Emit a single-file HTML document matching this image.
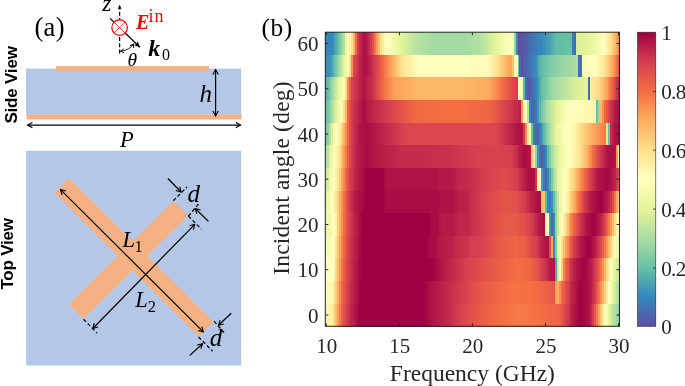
<!DOCTYPE html>
<html><head><meta charset="utf-8"><title>Figure</title>
<style>
html,body{margin:0;padding:0;background:#fff;}
body{width:685px;height:386px;overflow:hidden;}
svg{display:block;}
text{font-family:"Liberation Serif",serif;fill:#000;}
.sans{font-family:"Liberation Sans",sans-serif;font-weight:bold;font-size:17px;letter-spacing:-0.2px;}
.tick{font-size:21px;fill:#262626;}
.lab{font-size:23.5px;fill:#262626;}
.it{font-style:italic;}
.bi{font-style:italic;font-weight:bold;}
.ln{stroke:#000;stroke-width:1.2;fill:none;}
.dash{stroke:#000;stroke-width:1.25;fill:none;stroke-dasharray:3.6 2.4;}
</style></head>
<body>
<svg width="685" height="386" viewBox="0 0 685 386">
<defs>
<marker id="ah" viewBox="-6 -4 7 8" markerWidth="7" markerHeight="8" refX="0" refY="0" orient="auto-start-reverse" markerUnits="userSpaceOnUse">
<path d="M-4.8,-2.7 L0,0 L-4.8,2.7" fill="none" stroke="#000" stroke-width="1.1"/>
</marker>
<marker id="ahs" viewBox="-5 -3 6 6" markerWidth="6" markerHeight="6" refX="0" refY="0" orient="auto-start-reverse" markerUnits="userSpaceOnUse">
<path d="M-3.4,-2 L0,0 L-3.4,2" fill="none" stroke="#000" stroke-width="0.9"/>
</marker>
<marker id="ahf" viewBox="-7 -4 8 8" markerWidth="8" markerHeight="8" refX="0" refY="0" orient="auto-start-reverse" markerUnits="userSpaceOnUse">
<path d="M-6,-2.9 L0,0 L-6,2.9 L-4.2,0 Z" fill="#000" stroke="none"/>
</marker>
<marker id="ahz" viewBox="-6 -4 7 8" markerWidth="7" markerHeight="8" refX="0" refY="0" orient="auto-start-reverse" markerUnits="userSpaceOnUse">
<path d="M-4.4,-2.1 L0,0 L-4.4,2.1 L-3.2,0 Z" fill="#000" stroke="none"/>
</marker>
</defs>
<defs><linearGradient id="cb" x1="0" y1="0" x2="0" y2="1"><stop offset="0%" stop-color="#9e0142"/><stop offset="10%" stop-color="#d53e4f"/><stop offset="20%" stop-color="#f46d43"/><stop offset="30%" stop-color="#fdae61"/><stop offset="40%" stop-color="#fee08b"/><stop offset="50%" stop-color="#ffffbf"/><stop offset="60%" stop-color="#e6f598"/><stop offset="70%" stop-color="#abdda4"/><stop offset="80%" stop-color="#66c2a5"/><stop offset="90%" stop-color="#3288bd"/><stop offset="100%" stop-color="#5e4fa2"/></linearGradient></defs>
<rect x="0" y="0" width="685" height="386" fill="#fff"/>

<!-- ===== panel (a) ===== -->
<text x="34.4" y="35.9" font-size="26.6" style="letter-spacing:0.3px">(a)</text>
<text class="sans" transform="translate(17.4,123.6) rotate(-90)">Side View</text>
<text class="sans" transform="translate(12.6,289.6) rotate(-90)">Top View</text>

<!-- side view -->
<rect x="26" y="68.6" width="215.2" height="46" fill="#b4c7e7"/>
<rect x="56" y="66" width="152.9" height="5.3" fill="#f4b183"/>
<rect x="26.5" y="114.4" width="215" height="5.1" fill="#f4b183"/>
<line class="ln" x1="27.6" y1="125.1" x2="240.6" y2="125.1" marker-start="url(#ah)" marker-end="url(#ah)"/>
<line class="ln" x1="215.6" y1="69.6" x2="215.6" y2="115.9" marker-start="url(#ah)" marker-end="url(#ah)"/>
<text class="it" x="199.5" y="101.8" font-size="25">h</text>
<text class="it" x="120" y="147" font-size="22.5">P</text>

<!-- incidence symbol -->
<line class="ln" x1="110.1" y1="18.4" x2="139.9" y2="47.2" stroke-width="1.3" style="stroke-width:1.3" marker-end="url(#ahf)"/>
<line class="dash" x1="119.6" y1="53.6" x2="119.6" y2="5" style="stroke-dasharray:4 2.3" marker-end="url(#ahz)"/>
<circle cx="119.6" cy="27.6" r="7.8" fill="#fff" stroke="#ff0000" stroke-width="1.2"/>
<path d="M114.1,22.1 L125.1,33.1 M125.1,22.1 L114.1,33.1" stroke="#ff0000" stroke-width="0.7" fill="none"/>
<path class="ln" d="M120.6,51.2 Q129.6,50.2 133.6,44.0" style="stroke-width:0.9" marker-start="url(#ahs)" marker-end="url(#ahs)"/>
<text class="it" x="102.3" y="11.1" font-size="23.5">z</text>
<text class="it" x="127.6" y="65.7" font-size="19.5">θ</text>
<text class="bi" x="136" y="29.3" font-size="20" style="fill:#ff0000">E</text>
<text x="148.6" y="21.8" font-size="18" style="fill:#ff0000;letter-spacing:1px">in</text>
<text class="bi" x="148.3" y="55.6" font-size="24">k</text>
<text x="162" y="60.3" font-size="16">0</text>

<!-- top view -->
<rect x="26.2" y="150.7" width="215" height="214.8" fill="#b4c7e7"/>
<line x1="76" y1="311.6" x2="180.9" y2="208.4" stroke="#f4b183" stroke-width="20.8"/>
<line x1="61.8" y1="185.5" x2="206.2" y2="329.1" stroke="#f4b183" stroke-width="20.8"/>
<line class="ln" x1="60.5" y1="189.6" x2="203.3" y2="331.9" marker-start="url(#ah)" marker-end="url(#ah)"/>
<line class="ln" x1="92.8" y1="328.5" x2="194.8" y2="224.3" marker-start="url(#ah)" marker-end="url(#ah)"/>
<!-- dashed extension lines -->
<line class="dash" x1="173.3" y1="200.7" x2="187" y2="187"/>
<line class="dash" x1="188.4" y1="216.1" x2="199" y2="203.5"/>
<line class="dash" x1="188.4" y1="216.1" x2="201.5" y2="229.3"/>
<line class="dash" x1="83.5" y1="319.3" x2="97" y2="333"/>
<line class="dash" x1="214.1" y1="321.2" x2="224" y2="332.6"/>
<line class="dash" x1="198.4" y1="336.9" x2="212.6" y2="351.2"/>
<!-- d arrows -->
<line class="ln" x1="167.9" y1="178.5" x2="181.1" y2="192" marker-end="url(#ah)"/>
<line class="ln" x1="208.4" y1="221.2" x2="195.2" y2="208.6" marker-end="url(#ah)"/>
<line class="ln" x1="231.2" y1="313.3" x2="218.5" y2="325.3" marker-end="url(#ah)"/>
<line class="ln" x1="189.8" y1="355.4" x2="202.5" y2="343.7" marker-end="url(#ah)"/>
<text class="it" x="187.6" y="201.9" font-size="25">d</text>
<text class="it" x="209.8" y="345.5" font-size="25">d</text>
<text class="it" x="122.5" y="247" font-size="22.5">L</text>
<text x="134.6" y="251.8" font-size="16.5">1</text>
<text class="it" x="135.2" y="307" font-size="22.5">L</text>
<text x="147.7" y="312.1" font-size="16.5">2</text>

<!-- ===== panel (b) ===== -->
<text x="261.5" y="36.2" font-size="25.4" style="letter-spacing:0.6px">(b)</text>
<g shape-rendering="crispEdges">
<rect x="325.30" y="32.20" width="8.15" height="22.92" fill="#3288bd"/>
<rect x="333.15" y="32.20" width="2.26" height="22.92" fill="#4098b6"/>
<rect x="335.11" y="32.20" width="2.26" height="22.92" fill="#50aaaf"/>
<rect x="337.07" y="32.20" width="2.26" height="22.92" fill="#61bca7"/>
<rect x="339.03" y="32.20" width="2.26" height="22.92" fill="#78c9a5"/>
<rect x="340.99" y="32.20" width="2.26" height="22.92" fill="#94d4a4"/>
<rect x="342.95" y="32.20" width="2.26" height="22.92" fill="#b5e1a2"/>
<rect x="344.91" y="32.20" width="2.26" height="22.92" fill="#ebf7a0"/>
<rect x="346.87" y="32.20" width="2.26" height="22.92" fill="#fffcba"/>
<rect x="348.84" y="32.20" width="2.26" height="22.92" fill="#fff0a5"/>
<rect x="350.80" y="32.20" width="2.26" height="22.92" fill="#fee391"/>
<rect x="352.76" y="32.20" width="2.26" height="22.92" fill="#fdb567"/>
<rect x="354.72" y="32.20" width="2.26" height="22.92" fill="#f36b43"/>
<rect x="356.68" y="32.20" width="2.26" height="22.92" fill="#d23b4e"/>
<rect x="358.64" y="32.20" width="2.26" height="22.92" fill="#c2294b"/>
<rect x="360.60" y="32.20" width="2.26" height="22.92" fill="#b61b48"/>
<rect x="362.57" y="32.20" width="4.22" height="22.92" fill="#ad1246"/>
<rect x="366.49" y="32.20" width="2.26" height="22.92" fill="#b61b48"/>
<rect x="368.45" y="32.20" width="2.26" height="22.92" fill="#c2294b"/>
<rect x="370.41" y="32.20" width="2.26" height="22.92" fill="#d33b4e"/>
<rect x="372.37" y="32.20" width="2.26" height="22.92" fill="#e04e4b"/>
<rect x="374.33" y="32.20" width="2.26" height="22.92" fill="#f57547"/>
<rect x="376.29" y="32.20" width="2.26" height="22.92" fill="#fa9b58"/>
<rect x="378.26" y="32.20" width="2.26" height="22.92" fill="#fdbd6d"/>
<rect x="380.22" y="32.20" width="2.26" height="22.92" fill="#fee18d"/>
<rect x="382.18" y="32.20" width="2.26" height="22.92" fill="#feeda1"/>
<rect x="384.14" y="32.20" width="2.26" height="22.92" fill="#fff9b5"/>
<rect x="386.10" y="32.20" width="2.26" height="22.92" fill="#fffebd"/>
<rect x="388.06" y="32.20" width="2.26" height="22.92" fill="#fcfebb"/>
<rect x="390.02" y="32.20" width="2.26" height="22.92" fill="#f9fcb5"/>
<rect x="391.99" y="32.20" width="2.26" height="22.92" fill="#f5fbaf"/>
<rect x="393.95" y="32.20" width="2.26" height="22.92" fill="#f1f9a9"/>
<rect x="395.91" y="32.20" width="2.26" height="22.92" fill="#edf8a2"/>
<rect x="397.87" y="32.20" width="2.26" height="22.92" fill="#e8f69c"/>
<rect x="399.83" y="32.20" width="2.26" height="22.92" fill="#e4f498"/>
<rect x="401.79" y="32.20" width="2.26" height="22.92" fill="#def29a"/>
<rect x="403.75" y="32.20" width="2.26" height="22.92" fill="#d8ef9b"/>
<rect x="405.71" y="32.20" width="2.26" height="22.92" fill="#d2ed9c"/>
<rect x="407.68" y="32.20" width="2.26" height="22.92" fill="#cceb9d"/>
<rect x="409.64" y="32.20" width="2.26" height="22.92" fill="#c7e89e"/>
<rect x="411.60" y="32.20" width="2.26" height="22.92" fill="#c1e6a0"/>
<rect x="413.56" y="32.20" width="2.26" height="22.92" fill="#bce4a1"/>
<rect x="415.52" y="32.20" width="2.26" height="22.92" fill="#bae3a1"/>
<rect x="417.48" y="32.20" width="2.26" height="22.92" fill="#b7e2a2"/>
<rect x="419.44" y="32.20" width="2.26" height="22.92" fill="#b5e1a2"/>
<rect x="421.41" y="32.20" width="2.26" height="22.92" fill="#b2e0a3"/>
<rect x="423.37" y="32.20" width="2.26" height="22.92" fill="#b0dfa3"/>
<rect x="425.33" y="32.20" width="2.26" height="22.92" fill="#addea4"/>
<rect x="427.29" y="32.20" width="2.26" height="22.92" fill="#abdda4"/>
<rect x="429.25" y="32.20" width="2.26" height="22.92" fill="#a8dca4"/>
<rect x="431.21" y="32.20" width="2.26" height="22.92" fill="#a5dba4"/>
<rect x="433.17" y="32.20" width="33.64" height="22.92" fill="#a4daa4"/>
<rect x="466.52" y="32.20" width="2.26" height="22.92" fill="#a5dba4"/>
<rect x="468.48" y="32.20" width="2.26" height="22.92" fill="#a7dba4"/>
<rect x="470.44" y="32.20" width="2.26" height="22.92" fill="#a9dca4"/>
<rect x="472.40" y="32.20" width="2.26" height="22.92" fill="#abdda4"/>
<rect x="474.36" y="32.20" width="2.26" height="22.92" fill="#addea4"/>
<rect x="476.32" y="32.20" width="2.26" height="22.92" fill="#aedea3"/>
<rect x="478.28" y="32.20" width="2.26" height="22.92" fill="#b0dfa3"/>
<rect x="480.25" y="32.20" width="2.26" height="22.92" fill="#b5e1a2"/>
<rect x="482.21" y="32.20" width="2.26" height="22.92" fill="#bae3a1"/>
<rect x="484.17" y="32.20" width="2.26" height="22.92" fill="#c0e6a0"/>
<rect x="486.13" y="32.20" width="2.26" height="22.92" fill="#c7e89e"/>
<rect x="488.09" y="32.20" width="2.26" height="22.92" fill="#cdeb9d"/>
<rect x="490.05" y="32.20" width="2.26" height="22.92" fill="#d4ee9c"/>
<rect x="492.01" y="32.20" width="2.26" height="22.92" fill="#dbf19a"/>
<rect x="493.97" y="32.20" width="2.26" height="22.92" fill="#e2f399"/>
<rect x="495.94" y="32.20" width="2.26" height="22.92" fill="#e8f69b"/>
<rect x="497.90" y="32.20" width="2.26" height="22.92" fill="#ebf7a0"/>
<rect x="499.86" y="32.20" width="2.26" height="22.92" fill="#eff9a6"/>
<rect x="501.82" y="32.20" width="2.26" height="22.92" fill="#f3faac"/>
<rect x="503.78" y="32.20" width="2.26" height="22.92" fill="#f6fcb2"/>
<rect x="505.74" y="32.20" width="2.26" height="22.92" fill="#fafdb7"/>
<rect x="507.70" y="32.20" width="2.26" height="22.92" fill="#fcfeba"/>
<rect x="509.67" y="32.20" width="2.26" height="22.92" fill="#fefebd"/>
<rect x="511.63" y="32.20" width="2.26" height="22.92" fill="#fdfebb"/>
<rect x="513.59" y="32.20" width="2.26" height="22.92" fill="#98d6a4"/>
<rect x="515.55" y="32.20" width="2.26" height="22.92" fill="#358cbb"/>
<rect x="517.51" y="32.20" width="2.26" height="22.92" fill="#5e4fa2"/>
<rect x="519.47" y="32.20" width="2.26" height="22.92" fill="#5c52a3"/>
<rect x="521.43" y="32.20" width="2.26" height="22.92" fill="#5955a5"/>
<rect x="523.39" y="32.20" width="2.26" height="22.92" fill="#5758a6"/>
<rect x="525.36" y="32.20" width="2.26" height="22.92" fill="#545ca8"/>
<rect x="527.32" y="32.20" width="2.26" height="22.92" fill="#4d65ac"/>
<rect x="529.28" y="32.20" width="2.26" height="22.92" fill="#466eb1"/>
<rect x="531.24" y="32.20" width="2.26" height="22.92" fill="#4274b3"/>
<rect x="533.20" y="32.20" width="2.26" height="22.92" fill="#3e78b5"/>
<rect x="535.16" y="32.20" width="2.26" height="22.92" fill="#3b7cb7"/>
<rect x="537.12" y="32.20" width="2.26" height="22.92" fill="#3881ba"/>
<rect x="539.09" y="32.20" width="2.26" height="22.92" fill="#3485bc"/>
<rect x="541.05" y="32.20" width="2.26" height="22.92" fill="#348abc"/>
<rect x="543.01" y="32.20" width="2.26" height="22.92" fill="#3990ba"/>
<rect x="544.97" y="32.20" width="2.26" height="22.92" fill="#3f96b7"/>
<rect x="546.93" y="32.20" width="2.26" height="22.92" fill="#459db4"/>
<rect x="548.89" y="32.20" width="2.26" height="22.92" fill="#4aa3b2"/>
<rect x="550.85" y="32.20" width="2.26" height="22.92" fill="#51abaf"/>
<rect x="552.81" y="32.20" width="2.26" height="22.92" fill="#58b3ab"/>
<rect x="554.78" y="32.20" width="2.26" height="22.92" fill="#60bba8"/>
<rect x="556.74" y="32.20" width="2.26" height="22.92" fill="#61bda7"/>
<rect x="558.70" y="32.20" width="2.26" height="22.92" fill="#62bea7"/>
<rect x="560.66" y="32.20" width="2.26" height="22.92" fill="#63bea7"/>
<rect x="562.62" y="32.20" width="2.26" height="22.92" fill="#63bfa6"/>
<rect x="564.58" y="32.20" width="2.26" height="22.92" fill="#64c0a6"/>
<rect x="566.54" y="32.20" width="2.26" height="22.92" fill="#65c0a6"/>
<rect x="568.51" y="32.20" width="2.26" height="22.92" fill="#65c1a5"/>
<rect x="570.47" y="32.20" width="2.26" height="22.92" fill="#66c2a5"/>
<rect x="572.43" y="32.20" width="2.26" height="22.92" fill="#3c7bb7"/>
<rect x="574.39" y="32.20" width="2.26" height="22.92" fill="#486cb0"/>
<rect x="576.35" y="32.20" width="2.26" height="22.92" fill="#dbf19a"/>
<rect x="578.31" y="32.20" width="2.26" height="22.92" fill="#ddf19a"/>
<rect x="580.27" y="32.20" width="2.26" height="22.92" fill="#dff299"/>
<rect x="582.23" y="32.20" width="2.26" height="22.92" fill="#e0f399"/>
<rect x="584.20" y="32.20" width="2.26" height="22.92" fill="#e2f399"/>
<rect x="586.16" y="32.20" width="2.26" height="22.92" fill="#e4f498"/>
<rect x="588.12" y="32.20" width="2.26" height="22.92" fill="#e6f598"/>
<rect x="590.08" y="32.20" width="2.26" height="22.92" fill="#e9f69c"/>
<rect x="592.04" y="32.20" width="2.26" height="22.92" fill="#ecf7a1"/>
<rect x="594.00" y="32.20" width="2.26" height="22.92" fill="#eff9a7"/>
<rect x="595.96" y="32.20" width="2.26" height="22.92" fill="#f3faac"/>
<rect x="597.93" y="32.20" width="2.26" height="22.92" fill="#f6fbb1"/>
<rect x="599.89" y="32.20" width="2.26" height="22.92" fill="#f9fdb6"/>
<rect x="601.85" y="32.20" width="2.26" height="22.92" fill="#fdfebb"/>
<rect x="603.81" y="32.20" width="2.26" height="22.92" fill="#fffdbb"/>
<rect x="605.77" y="32.20" width="2.26" height="22.92" fill="#fff3ab"/>
<rect x="607.73" y="32.20" width="2.26" height="22.92" fill="#fee99a"/>
<rect x="609.69" y="32.20" width="2.26" height="22.92" fill="#fedf8a"/>
<rect x="611.65" y="32.20" width="2.26" height="22.92" fill="#fecd7b"/>
<rect x="613.62" y="32.20" width="2.26" height="22.92" fill="#fdb96b"/>
<rect x="615.58" y="32.20" width="2.26" height="22.92" fill="#fba35c"/>
<rect x="617.54" y="32.20" width="2.26" height="22.92" fill="#f77f4b"/>
<rect x="325.30" y="54.82" width="2.26" height="22.92" fill="#348abc"/>
<rect x="327.26" y="54.82" width="2.26" height="22.92" fill="#378eba"/>
<rect x="329.22" y="54.82" width="2.26" height="22.92" fill="#3b92b9"/>
<rect x="331.18" y="54.82" width="2.26" height="22.92" fill="#47a0b3"/>
<rect x="333.15" y="54.82" width="2.26" height="22.92" fill="#5db8a9"/>
<rect x="335.11" y="54.82" width="2.26" height="22.92" fill="#76c8a5"/>
<rect x="337.07" y="54.82" width="2.26" height="22.92" fill="#91d3a4"/>
<rect x="339.03" y="54.82" width="2.26" height="22.92" fill="#addea4"/>
<rect x="340.99" y="54.82" width="2.26" height="22.92" fill="#c8e99e"/>
<rect x="342.95" y="54.82" width="2.26" height="22.92" fill="#e4f498"/>
<rect x="344.91" y="54.82" width="2.26" height="22.92" fill="#f0f9a8"/>
<rect x="346.87" y="54.82" width="2.26" height="22.92" fill="#fbfdb9"/>
<rect x="348.84" y="54.82" width="2.26" height="22.92" fill="#fee18c"/>
<rect x="350.80" y="54.82" width="2.26" height="22.92" fill="#f98e52"/>
<rect x="352.76" y="54.82" width="2.26" height="22.92" fill="#db474d"/>
<rect x="354.72" y="54.82" width="2.26" height="22.92" fill="#d33c4f"/>
<rect x="356.68" y="54.82" width="2.26" height="22.92" fill="#c82f4c"/>
<rect x="358.64" y="54.82" width="2.26" height="22.92" fill="#bc2249"/>
<rect x="360.60" y="54.82" width="2.26" height="22.92" fill="#b41a47"/>
<rect x="362.57" y="54.82" width="2.26" height="22.92" fill="#ae1346"/>
<rect x="364.53" y="54.82" width="2.26" height="22.92" fill="#ab0f45"/>
<rect x="366.49" y="54.82" width="2.26" height="22.92" fill="#b11647"/>
<rect x="368.45" y="54.82" width="2.26" height="22.92" fill="#b81d48"/>
<rect x="370.41" y="54.82" width="2.26" height="22.92" fill="#c0274a"/>
<rect x="372.37" y="54.82" width="2.26" height="22.92" fill="#ca324c"/>
<rect x="374.33" y="54.82" width="2.26" height="22.92" fill="#d43d4f"/>
<rect x="376.29" y="54.82" width="2.26" height="22.92" fill="#da454d"/>
<rect x="378.26" y="54.82" width="2.26" height="22.92" fill="#e1504a"/>
<rect x="380.22" y="54.82" width="2.26" height="22.92" fill="#e95c47"/>
<rect x="382.18" y="54.82" width="2.26" height="22.92" fill="#f16844"/>
<rect x="384.14" y="54.82" width="2.26" height="22.92" fill="#f57647"/>
<rect x="386.10" y="54.82" width="2.26" height="22.92" fill="#f7854e"/>
<rect x="388.06" y="54.82" width="2.26" height="22.92" fill="#f99455"/>
<rect x="390.02" y="54.82" width="2.26" height="22.92" fill="#fba15b"/>
<rect x="391.99" y="54.82" width="2.26" height="22.92" fill="#fdae61"/>
<rect x="393.95" y="54.82" width="2.26" height="22.92" fill="#fdba6b"/>
<rect x="395.91" y="54.82" width="2.26" height="22.92" fill="#fdc675"/>
<rect x="397.87" y="54.82" width="2.26" height="22.92" fill="#fed380"/>
<rect x="399.83" y="54.82" width="2.26" height="22.92" fill="#fedf8a"/>
<rect x="401.79" y="54.82" width="2.26" height="22.92" fill="#fee492"/>
<rect x="403.75" y="54.82" width="2.26" height="22.92" fill="#fee899"/>
<rect x="405.71" y="54.82" width="2.26" height="22.92" fill="#feeda0"/>
<rect x="407.68" y="54.82" width="2.26" height="22.92" fill="#fff0a6"/>
<rect x="409.64" y="54.82" width="2.26" height="22.92" fill="#fff3ab"/>
<rect x="411.60" y="54.82" width="2.26" height="22.92" fill="#fff6af"/>
<rect x="413.56" y="54.82" width="2.26" height="22.92" fill="#fff8b4"/>
<rect x="415.52" y="54.82" width="2.26" height="22.92" fill="#fffbb8"/>
<rect x="417.48" y="54.82" width="2.26" height="22.92" fill="#fffebd"/>
<rect x="419.44" y="54.82" width="47.37" height="22.92" fill="#ffffbf"/>
<rect x="466.52" y="54.82" width="2.26" height="22.92" fill="#fffebe"/>
<rect x="468.48" y="54.82" width="2.26" height="22.92" fill="#fffebd"/>
<rect x="470.44" y="54.82" width="2.26" height="22.92" fill="#fffdbc"/>
<rect x="472.40" y="54.82" width="2.26" height="22.92" fill="#fffdbb"/>
<rect x="474.36" y="54.82" width="2.26" height="22.92" fill="#fffcbb"/>
<rect x="476.32" y="54.82" width="2.26" height="22.92" fill="#fffcba"/>
<rect x="478.28" y="54.82" width="2.26" height="22.92" fill="#fffbb9"/>
<rect x="480.25" y="54.82" width="2.26" height="22.92" fill="#fffbb8"/>
<rect x="482.21" y="54.82" width="4.22" height="22.92" fill="#fffab7"/>
<rect x="486.13" y="54.82" width="2.26" height="22.92" fill="#fff9b6"/>
<rect x="488.09" y="54.82" width="2.26" height="22.92" fill="#fff9b5"/>
<rect x="490.05" y="54.82" width="2.26" height="22.92" fill="#fff5af"/>
<rect x="492.01" y="54.82" width="2.26" height="22.92" fill="#feefa4"/>
<rect x="493.97" y="54.82" width="2.26" height="22.92" fill="#fee99a"/>
<rect x="495.94" y="54.82" width="2.26" height="22.92" fill="#fee390"/>
<rect x="497.90" y="54.82" width="2.26" height="22.92" fill="#fedb87"/>
<rect x="499.86" y="54.82" width="2.26" height="22.92" fill="#fed07e"/>
<rect x="501.82" y="54.82" width="2.26" height="22.92" fill="#fdc675"/>
<rect x="503.78" y="54.82" width="2.26" height="22.92" fill="#fdbc6c"/>
<rect x="505.74" y="54.82" width="2.26" height="22.92" fill="#fdb164"/>
<rect x="507.70" y="54.82" width="2.26" height="22.92" fill="#fdaa5f"/>
<rect x="509.67" y="54.82" width="2.26" height="22.92" fill="#fca55d"/>
<rect x="511.63" y="54.82" width="2.26" height="22.92" fill="#fdc070"/>
<rect x="513.59" y="54.82" width="2.26" height="22.92" fill="#fefebd"/>
<rect x="515.55" y="54.82" width="2.26" height="22.92" fill="#fbfdb9"/>
<rect x="517.51" y="54.82" width="2.26" height="22.92" fill="#67c3a5"/>
<rect x="519.47" y="54.82" width="2.26" height="22.92" fill="#4b68ae"/>
<rect x="521.43" y="54.82" width="2.26" height="22.92" fill="#5a54a4"/>
<rect x="523.39" y="54.82" width="2.26" height="22.92" fill="#555ba7"/>
<rect x="525.36" y="54.82" width="2.26" height="22.92" fill="#5062ab"/>
<rect x="527.32" y="54.82" width="2.26" height="22.92" fill="#496baf"/>
<rect x="529.28" y="54.82" width="2.26" height="22.92" fill="#4274b3"/>
<rect x="531.24" y="54.82" width="2.26" height="22.92" fill="#3b7db8"/>
<rect x="533.20" y="54.82" width="2.26" height="22.92" fill="#3486bc"/>
<rect x="535.16" y="54.82" width="2.26" height="22.92" fill="#388fba"/>
<rect x="537.12" y="54.82" width="2.26" height="22.92" fill="#47a0b3"/>
<rect x="539.09" y="54.82" width="2.26" height="22.92" fill="#5cb7aa"/>
<rect x="541.05" y="54.82" width="2.26" height="22.92" fill="#61bca7"/>
<rect x="543.01" y="54.82" width="2.26" height="22.92" fill="#66c2a5"/>
<rect x="544.97" y="54.82" width="2.26" height="22.92" fill="#6dc5a5"/>
<rect x="546.93" y="54.82" width="2.26" height="22.92" fill="#73c7a5"/>
<rect x="548.89" y="54.82" width="2.26" height="22.92" fill="#7acaa5"/>
<rect x="550.85" y="54.82" width="2.26" height="22.92" fill="#81cda5"/>
<rect x="552.81" y="54.82" width="2.26" height="22.92" fill="#86cfa5"/>
<rect x="554.78" y="54.82" width="2.26" height="22.92" fill="#8bd1a4"/>
<rect x="556.74" y="54.82" width="2.26" height="22.92" fill="#90d3a4"/>
<rect x="558.70" y="54.82" width="2.26" height="22.92" fill="#95d5a4"/>
<rect x="560.66" y="54.82" width="2.26" height="22.92" fill="#98d6a4"/>
<rect x="562.62" y="54.82" width="2.26" height="22.92" fill="#9ad7a4"/>
<rect x="564.58" y="54.82" width="2.26" height="22.92" fill="#9dd7a4"/>
<rect x="566.54" y="54.82" width="2.26" height="22.92" fill="#9fd8a4"/>
<rect x="568.51" y="54.82" width="2.26" height="22.92" fill="#a1d9a4"/>
<rect x="570.47" y="54.82" width="2.26" height="22.92" fill="#a3daa4"/>
<rect x="572.43" y="54.82" width="2.26" height="22.92" fill="#a6dba4"/>
<rect x="574.39" y="54.82" width="2.26" height="22.92" fill="#a8dca4"/>
<rect x="576.35" y="54.82" width="2.26" height="22.92" fill="#aadda4"/>
<rect x="578.31" y="54.82" width="4.22" height="22.92" fill="#486cb0"/>
<rect x="582.23" y="54.82" width="2.26" height="22.92" fill="#f8fcb5"/>
<rect x="584.20" y="54.82" width="2.26" height="22.92" fill="#f9fdb6"/>
<rect x="586.16" y="54.82" width="2.26" height="22.92" fill="#fbfdb8"/>
<rect x="588.12" y="54.82" width="2.26" height="22.92" fill="#fcfeba"/>
<rect x="590.08" y="54.82" width="2.26" height="22.92" fill="#fdfebc"/>
<rect x="592.04" y="54.82" width="2.26" height="22.92" fill="#feffbe"/>
<rect x="594.00" y="54.82" width="2.26" height="22.92" fill="#fffebd"/>
<rect x="595.96" y="54.82" width="2.26" height="22.92" fill="#fff9b4"/>
<rect x="597.93" y="54.82" width="2.26" height="22.92" fill="#fff4ac"/>
<rect x="599.89" y="54.82" width="2.26" height="22.92" fill="#feefa4"/>
<rect x="601.85" y="54.82" width="2.26" height="22.92" fill="#feea9c"/>
<rect x="603.81" y="54.82" width="2.26" height="22.92" fill="#fee491"/>
<rect x="605.77" y="54.82" width="2.26" height="22.92" fill="#fed683"/>
<rect x="607.73" y="54.82" width="2.26" height="22.92" fill="#fdc776"/>
<rect x="609.69" y="54.82" width="2.26" height="22.92" fill="#fdb769"/>
<rect x="611.65" y="54.82" width="2.26" height="22.92" fill="#fba35c"/>
<rect x="613.62" y="54.82" width="2.26" height="22.92" fill="#f88950"/>
<rect x="615.58" y="54.82" width="2.26" height="22.92" fill="#f46f44"/>
<rect x="617.54" y="54.82" width="2.26" height="22.92" fill="#e45549"/>
<rect x="325.30" y="77.45" width="2.26" height="22.92" fill="#56b1ac"/>
<rect x="327.26" y="77.45" width="2.26" height="22.92" fill="#5fbaa8"/>
<rect x="329.22" y="77.45" width="2.26" height="22.92" fill="#7bcaa5"/>
<rect x="331.18" y="77.45" width="2.26" height="22.92" fill="#9ad6a4"/>
<rect x="333.15" y="77.45" width="2.26" height="22.92" fill="#b3e0a2"/>
<rect x="335.11" y="77.45" width="2.26" height="22.92" fill="#c9e99e"/>
<rect x="337.07" y="77.45" width="2.26" height="22.92" fill="#dff299"/>
<rect x="339.03" y="77.45" width="2.26" height="22.92" fill="#edf8a2"/>
<rect x="340.99" y="77.45" width="2.26" height="22.92" fill="#f7fcb2"/>
<rect x="342.95" y="77.45" width="2.26" height="22.92" fill="#fffab7"/>
<rect x="344.91" y="77.45" width="2.26" height="22.92" fill="#fedb87"/>
<rect x="346.87" y="77.45" width="2.26" height="22.92" fill="#f99053"/>
<rect x="348.84" y="77.45" width="2.26" height="22.92" fill="#ea5e47"/>
<rect x="350.80" y="77.45" width="2.26" height="22.92" fill="#d9454d"/>
<rect x="352.76" y="77.45" width="2.26" height="22.92" fill="#d0394e"/>
<rect x="354.72" y="77.45" width="2.26" height="22.92" fill="#c9314c"/>
<rect x="356.68" y="77.45" width="2.26" height="22.92" fill="#c32a4b"/>
<rect x="358.64" y="77.45" width="2.26" height="22.92" fill="#bc2249"/>
<rect x="360.60" y="77.45" width="2.26" height="22.92" fill="#b51b47"/>
<rect x="362.57" y="77.45" width="2.26" height="22.92" fill="#af1346"/>
<rect x="364.53" y="77.45" width="2.26" height="22.92" fill="#b41947"/>
<rect x="366.49" y="77.45" width="2.26" height="22.92" fill="#b91f48"/>
<rect x="368.45" y="77.45" width="2.26" height="22.92" fill="#bf254a"/>
<rect x="370.41" y="77.45" width="2.26" height="22.92" fill="#c42b4b"/>
<rect x="372.37" y="77.45" width="2.26" height="22.92" fill="#ca314c"/>
<rect x="374.33" y="77.45" width="2.26" height="22.92" fill="#d53e4f"/>
<rect x="376.29" y="77.45" width="2.26" height="22.92" fill="#dc494c"/>
<rect x="378.26" y="77.45" width="2.26" height="22.92" fill="#e3534a"/>
<rect x="380.22" y="77.45" width="2.26" height="22.92" fill="#ea5d47"/>
<rect x="382.18" y="77.45" width="2.26" height="22.92" fill="#f16844"/>
<rect x="384.14" y="77.45" width="2.26" height="22.92" fill="#f57446"/>
<rect x="386.10" y="77.45" width="2.26" height="22.92" fill="#f77f4b"/>
<rect x="388.06" y="77.45" width="2.26" height="22.92" fill="#f88850"/>
<rect x="390.02" y="77.45" width="2.26" height="22.92" fill="#f99154"/>
<rect x="391.99" y="77.45" width="2.26" height="22.92" fill="#fa9a58"/>
<rect x="393.95" y="77.45" width="2.26" height="22.92" fill="#fba15b"/>
<rect x="395.91" y="77.45" width="2.26" height="22.92" fill="#fca35c"/>
<rect x="397.87" y="77.45" width="2.26" height="22.92" fill="#fca55d"/>
<rect x="399.83" y="77.45" width="2.26" height="22.92" fill="#fca75e"/>
<rect x="401.79" y="77.45" width="2.26" height="22.92" fill="#fcaa5f"/>
<rect x="403.75" y="77.45" width="2.26" height="22.92" fill="#fdac60"/>
<rect x="405.71" y="77.45" width="2.26" height="22.92" fill="#fdae61"/>
<rect x="407.68" y="77.45" width="2.26" height="22.92" fill="#fdaf62"/>
<rect x="409.64" y="77.45" width="2.26" height="22.92" fill="#fdb163"/>
<rect x="411.60" y="77.45" width="2.26" height="22.92" fill="#fdb265"/>
<rect x="413.56" y="77.45" width="2.26" height="22.92" fill="#fdb466"/>
<rect x="415.52" y="77.45" width="2.26" height="22.92" fill="#fdb667"/>
<rect x="417.48" y="77.45" width="2.26" height="22.92" fill="#fdb769"/>
<rect x="419.44" y="77.45" width="41.49" height="22.92" fill="#fdb869"/>
<rect x="460.63" y="77.45" width="2.26" height="22.92" fill="#fdb769"/>
<rect x="462.59" y="77.45" width="2.26" height="22.92" fill="#fdb768"/>
<rect x="464.55" y="77.45" width="2.26" height="22.92" fill="#fdb668"/>
<rect x="466.52" y="77.45" width="4.22" height="22.92" fill="#fdb567"/>
<rect x="470.44" y="77.45" width="4.22" height="22.92" fill="#fdb466"/>
<rect x="474.36" y="77.45" width="2.26" height="22.92" fill="#fdb365"/>
<rect x="476.32" y="77.45" width="2.26" height="22.92" fill="#fdb164"/>
<rect x="478.28" y="77.45" width="2.26" height="22.92" fill="#fdb063"/>
<rect x="480.25" y="77.45" width="2.26" height="22.92" fill="#fdaf62"/>
<rect x="482.21" y="77.45" width="2.26" height="22.92" fill="#fdad61"/>
<rect x="484.17" y="77.45" width="2.26" height="22.92" fill="#fdac60"/>
<rect x="486.13" y="77.45" width="2.26" height="22.92" fill="#fcaa5f"/>
<rect x="488.09" y="77.45" width="2.26" height="22.92" fill="#fca85e"/>
<rect x="490.05" y="77.45" width="2.26" height="22.92" fill="#fba25c"/>
<rect x="492.01" y="77.45" width="2.26" height="22.92" fill="#fa9957"/>
<rect x="493.97" y="77.45" width="2.26" height="22.92" fill="#f99053"/>
<rect x="495.94" y="77.45" width="2.26" height="22.92" fill="#f8864f"/>
<rect x="497.90" y="77.45" width="2.26" height="22.92" fill="#f67d4a"/>
<rect x="499.86" y="77.45" width="2.26" height="22.92" fill="#f57446"/>
<rect x="501.82" y="77.45" width="2.26" height="22.92" fill="#f36b43"/>
<rect x="503.78" y="77.45" width="2.26" height="22.92" fill="#ee6445"/>
<rect x="505.74" y="77.45" width="2.26" height="22.92" fill="#e95c47"/>
<rect x="507.70" y="77.45" width="2.26" height="22.92" fill="#e45549"/>
<rect x="509.67" y="77.45" width="2.26" height="22.92" fill="#df4e4b"/>
<rect x="511.63" y="77.45" width="2.26" height="22.92" fill="#db474d"/>
<rect x="513.59" y="77.45" width="2.26" height="22.92" fill="#d8434e"/>
<rect x="515.55" y="77.45" width="2.26" height="22.92" fill="#d53e4f"/>
<rect x="517.51" y="77.45" width="2.26" height="22.92" fill="#fdfebc"/>
<rect x="519.47" y="77.45" width="2.26" height="22.92" fill="#f9fdb6"/>
<rect x="521.43" y="77.45" width="2.26" height="22.92" fill="#f5fbaf"/>
<rect x="523.39" y="77.45" width="2.26" height="22.92" fill="#60bba8"/>
<rect x="525.36" y="77.45" width="2.26" height="22.92" fill="#4570b2"/>
<rect x="527.32" y="77.45" width="2.26" height="22.92" fill="#5a54a4"/>
<rect x="529.28" y="77.45" width="2.26" height="22.92" fill="#535da9"/>
<rect x="531.24" y="77.45" width="2.26" height="22.92" fill="#4a69ae"/>
<rect x="533.20" y="77.45" width="2.26" height="22.92" fill="#3f77b5"/>
<rect x="535.16" y="77.45" width="2.26" height="22.92" fill="#3585bb"/>
<rect x="537.12" y="77.45" width="2.26" height="22.92" fill="#3f97b7"/>
<rect x="539.09" y="77.45" width="2.26" height="22.92" fill="#51aaaf"/>
<rect x="541.05" y="77.45" width="2.26" height="22.92" fill="#65c1a5"/>
<rect x="543.01" y="77.45" width="2.26" height="22.92" fill="#70c6a5"/>
<rect x="544.97" y="77.45" width="2.26" height="22.92" fill="#7bcaa5"/>
<rect x="546.93" y="77.45" width="2.26" height="22.92" fill="#86cfa5"/>
<rect x="548.89" y="77.45" width="2.26" height="22.92" fill="#91d3a4"/>
<rect x="550.85" y="77.45" width="2.26" height="22.92" fill="#9cd7a4"/>
<rect x="552.81" y="77.45" width="2.26" height="22.92" fill="#a2d9a4"/>
<rect x="554.78" y="77.45" width="2.26" height="22.92" fill="#a7dca4"/>
<rect x="556.74" y="77.45" width="2.26" height="22.92" fill="#addea4"/>
<rect x="558.70" y="77.45" width="2.26" height="22.92" fill="#b1e0a3"/>
<rect x="560.66" y="77.45" width="2.26" height="22.92" fill="#b6e1a2"/>
<rect x="562.62" y="77.45" width="2.26" height="22.92" fill="#bbe3a1"/>
<rect x="564.58" y="77.45" width="2.26" height="22.92" fill="#bfe5a0"/>
<rect x="566.54" y="77.45" width="2.26" height="22.92" fill="#c4e79f"/>
<rect x="568.51" y="77.45" width="2.26" height="22.92" fill="#c9e99e"/>
<rect x="570.47" y="77.45" width="2.26" height="22.92" fill="#cdeb9d"/>
<rect x="572.43" y="77.45" width="2.26" height="22.92" fill="#d2ed9c"/>
<rect x="574.39" y="77.45" width="2.26" height="22.92" fill="#d7ef9b"/>
<rect x="576.35" y="77.45" width="2.26" height="22.92" fill="#dbf09a"/>
<rect x="578.31" y="77.45" width="2.26" height="22.92" fill="#ddf19a"/>
<rect x="580.27" y="77.45" width="2.26" height="22.92" fill="#dff299"/>
<rect x="582.23" y="77.45" width="2.26" height="22.92" fill="#e2f399"/>
<rect x="584.20" y="77.45" width="2.26" height="22.92" fill="#e4f498"/>
<rect x="586.16" y="77.45" width="2.26" height="22.92" fill="#e6f598"/>
<rect x="588.12" y="77.45" width="2.26" height="22.92" fill="#486cb0"/>
<rect x="590.08" y="77.45" width="2.26" height="22.92" fill="#feeea3"/>
<rect x="592.04" y="77.45" width="2.26" height="22.92" fill="#fee99b"/>
<rect x="594.00" y="77.45" width="2.26" height="22.92" fill="#fee593"/>
<rect x="595.96" y="77.45" width="2.26" height="22.92" fill="#fedf8b"/>
<rect x="597.93" y="77.45" width="2.26" height="22.92" fill="#fed884"/>
<rect x="599.89" y="77.45" width="2.26" height="22.92" fill="#fecc7a"/>
<rect x="601.85" y="77.45" width="2.26" height="22.92" fill="#fdbe6f"/>
<rect x="603.81" y="77.45" width="2.26" height="22.92" fill="#fdb164"/>
<rect x="605.77" y="77.45" width="2.26" height="22.92" fill="#fba15b"/>
<rect x="607.73" y="77.45" width="2.26" height="22.92" fill="#f88850"/>
<rect x="609.69" y="77.45" width="2.26" height="22.92" fill="#f46f44"/>
<rect x="611.65" y="77.45" width="2.26" height="22.92" fill="#e85b48"/>
<rect x="613.62" y="77.45" width="2.26" height="22.92" fill="#db474d"/>
<rect x="615.58" y="77.45" width="2.26" height="22.92" fill="#cb334d"/>
<rect x="617.54" y="77.45" width="2.26" height="22.92" fill="#b81e48"/>
<rect x="325.30" y="100.07" width="2.26" height="22.92" fill="#66c2a5"/>
<rect x="327.26" y="100.07" width="2.26" height="22.92" fill="#70c6a5"/>
<rect x="329.22" y="100.07" width="2.26" height="22.92" fill="#8cd1a4"/>
<rect x="331.18" y="100.07" width="2.26" height="22.92" fill="#a8dca4"/>
<rect x="333.15" y="100.07" width="2.26" height="22.92" fill="#c3e79f"/>
<rect x="335.11" y="100.07" width="2.26" height="22.92" fill="#dff299"/>
<rect x="337.07" y="100.07" width="2.26" height="22.92" fill="#eff8a5"/>
<rect x="339.03" y="100.07" width="2.26" height="22.92" fill="#f9fdb6"/>
<rect x="340.99" y="100.07" width="2.26" height="22.92" fill="#fff6b1"/>
<rect x="342.95" y="100.07" width="2.26" height="22.92" fill="#fee390"/>
<rect x="344.91" y="100.07" width="2.26" height="22.92" fill="#fdb265"/>
<rect x="346.87" y="100.07" width="2.26" height="22.92" fill="#f06744"/>
<rect x="348.84" y="100.07" width="2.26" height="22.92" fill="#e04e4b"/>
<rect x="350.80" y="100.07" width="2.26" height="22.92" fill="#d33b4e"/>
<rect x="352.76" y="100.07" width="2.26" height="22.92" fill="#cc344d"/>
<rect x="354.72" y="100.07" width="2.26" height="22.92" fill="#c52c4b"/>
<rect x="356.68" y="100.07" width="2.26" height="22.92" fill="#be2449"/>
<rect x="358.64" y="100.07" width="2.26" height="22.92" fill="#b71c48"/>
<rect x="360.60" y="100.07" width="2.26" height="22.92" fill="#b01546"/>
<rect x="362.57" y="100.07" width="2.26" height="22.92" fill="#a90d45"/>
<rect x="364.53" y="100.07" width="2.26" height="22.92" fill="#ad1246"/>
<rect x="366.49" y="100.07" width="2.26" height="22.92" fill="#b21747"/>
<rect x="368.45" y="100.07" width="2.26" height="22.92" fill="#b61c48"/>
<rect x="370.41" y="100.07" width="2.26" height="22.92" fill="#ba2049"/>
<rect x="372.37" y="100.07" width="2.26" height="22.92" fill="#bf254a"/>
<rect x="374.33" y="100.07" width="2.26" height="22.92" fill="#c2284a"/>
<rect x="376.29" y="100.07" width="2.26" height="22.92" fill="#c42c4b"/>
<rect x="378.26" y="100.07" width="2.26" height="22.92" fill="#c72f4c"/>
<rect x="380.22" y="100.07" width="2.26" height="22.92" fill="#ca324c"/>
<rect x="382.18" y="100.07" width="2.26" height="22.92" fill="#cd354d"/>
<rect x="384.14" y="100.07" width="2.26" height="22.92" fill="#d0384e"/>
<rect x="386.10" y="100.07" width="2.26" height="22.92" fill="#d33c4e"/>
<rect x="388.06" y="100.07" width="2.26" height="22.92" fill="#d53f4f"/>
<rect x="390.02" y="100.07" width="2.26" height="22.92" fill="#d7414e"/>
<rect x="391.99" y="100.07" width="2.26" height="22.92" fill="#d9444d"/>
<rect x="393.95" y="100.07" width="2.26" height="22.92" fill="#dc484c"/>
<rect x="395.91" y="100.07" width="2.26" height="22.92" fill="#de4b4c"/>
<rect x="397.87" y="100.07" width="2.26" height="22.92" fill="#e04f4b"/>
<rect x="399.83" y="100.07" width="2.26" height="22.92" fill="#e2524a"/>
<rect x="401.79" y="100.07" width="2.26" height="22.92" fill="#e55649"/>
<rect x="403.75" y="100.07" width="2.26" height="22.92" fill="#e85a48"/>
<rect x="405.71" y="100.07" width="2.26" height="22.92" fill="#ea5e47"/>
<rect x="407.68" y="100.07" width="2.26" height="22.92" fill="#ec6146"/>
<rect x="409.64" y="100.07" width="2.26" height="22.92" fill="#ee6346"/>
<rect x="411.60" y="100.07" width="2.26" height="22.92" fill="#ef6545"/>
<rect x="413.56" y="100.07" width="2.26" height="22.92" fill="#f16844"/>
<rect x="415.52" y="100.07" width="4.22" height="22.92" fill="#f16944"/>
<rect x="419.44" y="100.07" width="2.26" height="22.92" fill="#f26944"/>
<rect x="421.41" y="100.07" width="6.18" height="22.92" fill="#f26a44"/>
<rect x="427.29" y="100.07" width="2.26" height="22.92" fill="#f36b44"/>
<rect x="429.25" y="100.07" width="2.26" height="22.92" fill="#f36b43"/>
<rect x="431.21" y="100.07" width="4.22" height="22.92" fill="#f36c43"/>
<rect x="435.13" y="100.07" width="2.26" height="22.92" fill="#f46c43"/>
<rect x="437.10" y="100.07" width="29.72" height="22.92" fill="#f46d43"/>
<rect x="466.52" y="100.07" width="2.26" height="22.92" fill="#f36c43"/>
<rect x="468.48" y="100.07" width="2.26" height="22.92" fill="#f36b43"/>
<rect x="470.44" y="100.07" width="2.26" height="22.92" fill="#f26b44"/>
<rect x="472.40" y="100.07" width="2.26" height="22.92" fill="#f26a44"/>
<rect x="474.36" y="100.07" width="2.26" height="22.92" fill="#f16944"/>
<rect x="476.32" y="100.07" width="2.26" height="22.92" fill="#f16844"/>
<rect x="478.28" y="100.07" width="2.26" height="22.92" fill="#f06844"/>
<rect x="480.25" y="100.07" width="2.26" height="22.92" fill="#f06745"/>
<rect x="482.21" y="100.07" width="2.26" height="22.92" fill="#ef6645"/>
<rect x="484.17" y="100.07" width="2.26" height="22.92" fill="#ef6545"/>
<rect x="486.13" y="100.07" width="2.26" height="22.92" fill="#ee6545"/>
<rect x="488.09" y="100.07" width="2.26" height="22.92" fill="#ee6445"/>
<rect x="490.05" y="100.07" width="2.26" height="22.92" fill="#ec6146"/>
<rect x="492.01" y="100.07" width="2.26" height="22.92" fill="#e95d47"/>
<rect x="493.97" y="100.07" width="2.26" height="22.92" fill="#e65848"/>
<rect x="495.94" y="100.07" width="2.26" height="22.92" fill="#e35449"/>
<rect x="497.90" y="100.07" width="2.26" height="22.92" fill="#e04f4b"/>
<rect x="499.86" y="100.07" width="2.26" height="22.92" fill="#dd4b4c"/>
<rect x="501.82" y="100.07" width="2.26" height="22.92" fill="#db464d"/>
<rect x="503.78" y="100.07" width="2.26" height="22.92" fill="#d8434e"/>
<rect x="505.74" y="100.07" width="2.26" height="22.92" fill="#d63f4f"/>
<rect x="507.70" y="100.07" width="2.26" height="22.92" fill="#d23b4e"/>
<rect x="509.67" y="100.07" width="2.26" height="22.92" fill="#ce364d"/>
<rect x="511.63" y="100.07" width="2.26" height="22.92" fill="#c9314c"/>
<rect x="513.59" y="100.07" width="2.26" height="22.92" fill="#c52c4b"/>
<rect x="515.55" y="100.07" width="2.26" height="22.92" fill="#c1284a"/>
<rect x="517.51" y="100.07" width="2.26" height="22.92" fill="#be244a"/>
<rect x="519.47" y="100.07" width="2.26" height="22.92" fill="#ba2149"/>
<rect x="521.43" y="100.07" width="2.26" height="22.92" fill="#f99354"/>
<rect x="523.39" y="100.07" width="2.26" height="22.92" fill="#fff5ae"/>
<rect x="525.36" y="100.07" width="2.26" height="22.92" fill="#ffffbf"/>
<rect x="527.32" y="100.07" width="2.26" height="22.92" fill="#b5e1a2"/>
<rect x="529.28" y="100.07" width="2.26" height="22.92" fill="#3387bd"/>
<rect x="531.24" y="100.07" width="2.26" height="22.92" fill="#486baf"/>
<rect x="533.20" y="100.07" width="2.26" height="22.92" fill="#4e64ac"/>
<rect x="535.16" y="100.07" width="2.26" height="22.92" fill="#3b7cb7"/>
<rect x="537.12" y="100.07" width="2.26" height="22.92" fill="#4097b7"/>
<rect x="539.09" y="100.07" width="2.26" height="22.92" fill="#5bb5aa"/>
<rect x="541.05" y="100.07" width="2.26" height="22.92" fill="#73c7a5"/>
<rect x="543.01" y="100.07" width="2.26" height="22.92" fill="#88cfa5"/>
<rect x="544.97" y="100.07" width="2.26" height="22.92" fill="#9ed8a4"/>
<rect x="546.93" y="100.07" width="2.26" height="22.92" fill="#b0dfa3"/>
<rect x="548.89" y="100.07" width="2.26" height="22.92" fill="#bce4a1"/>
<rect x="550.85" y="100.07" width="2.26" height="22.92" fill="#c7e89e"/>
<rect x="552.81" y="100.07" width="2.26" height="22.92" fill="#d3ed9c"/>
<rect x="554.78" y="100.07" width="2.26" height="22.92" fill="#dff29a"/>
<rect x="556.74" y="100.07" width="2.26" height="22.92" fill="#e7f69a"/>
<rect x="558.70" y="100.07" width="2.26" height="22.92" fill="#ebf7a0"/>
<rect x="560.66" y="100.07" width="2.26" height="22.92" fill="#eff9a6"/>
<rect x="562.62" y="100.07" width="2.26" height="22.92" fill="#f3faad"/>
<rect x="564.58" y="100.07" width="2.26" height="22.92" fill="#f7fcb3"/>
<rect x="566.54" y="100.07" width="2.26" height="22.92" fill="#fbfdb9"/>
<rect x="568.51" y="100.07" width="2.26" height="22.92" fill="#ffffbf"/>
<rect x="570.47" y="100.07" width="2.26" height="22.92" fill="#fffebd"/>
<rect x="572.43" y="100.07" width="2.26" height="22.92" fill="#fffdbc"/>
<rect x="574.39" y="100.07" width="2.26" height="22.92" fill="#fffcba"/>
<rect x="576.35" y="100.07" width="2.26" height="22.92" fill="#fffbb9"/>
<rect x="578.31" y="100.07" width="2.26" height="22.92" fill="#fffab7"/>
<rect x="580.27" y="100.07" width="2.26" height="22.92" fill="#fffab6"/>
<rect x="582.23" y="100.07" width="2.26" height="22.92" fill="#fff9b4"/>
<rect x="584.20" y="100.07" width="2.26" height="22.92" fill="#fff8b3"/>
<rect x="586.16" y="100.07" width="2.26" height="22.92" fill="#fff7b1"/>
<rect x="588.12" y="100.07" width="2.26" height="22.92" fill="#fff6b0"/>
<rect x="590.08" y="100.07" width="6.18" height="22.92" fill="#fff6af"/>
<rect x="595.96" y="100.07" width="2.26" height="22.92" fill="#66c2a5"/>
<rect x="597.93" y="100.07" width="2.26" height="22.92" fill="#a3daa4"/>
<rect x="599.89" y="100.07" width="2.26" height="22.92" fill="#fdba6b"/>
<rect x="601.85" y="100.07" width="2.26" height="22.92" fill="#f98f53"/>
<rect x="603.81" y="100.07" width="2.26" height="22.92" fill="#f16844"/>
<rect x="605.77" y="100.07" width="2.26" height="22.92" fill="#e55649"/>
<rect x="607.73" y="100.07" width="2.26" height="22.92" fill="#d9444e"/>
<rect x="609.69" y="100.07" width="2.26" height="22.92" fill="#cc344d"/>
<rect x="611.65" y="100.07" width="2.26" height="22.92" fill="#bf264a"/>
<rect x="613.62" y="100.07" width="2.26" height="22.92" fill="#b31947"/>
<rect x="615.58" y="100.07" width="2.26" height="22.92" fill="#af1446"/>
<rect x="617.54" y="100.07" width="2.26" height="22.92" fill="#ab1045"/>
<rect x="325.30" y="122.69" width="2.26" height="22.92" fill="#74c7a5"/>
<rect x="327.26" y="122.69" width="2.26" height="22.92" fill="#86cea5"/>
<rect x="329.22" y="122.69" width="2.26" height="22.92" fill="#b4e1a2"/>
<rect x="331.18" y="122.69" width="2.26" height="22.92" fill="#dcf19a"/>
<rect x="333.15" y="122.69" width="2.26" height="22.92" fill="#f3faad"/>
<rect x="335.11" y="122.69" width="2.26" height="22.92" fill="#feffbe"/>
<rect x="337.07" y="122.69" width="2.26" height="22.92" fill="#fff8b2"/>
<rect x="339.03" y="122.69" width="2.26" height="22.92" fill="#feeea3"/>
<rect x="340.99" y="122.69" width="2.26" height="22.92" fill="#fed581"/>
<rect x="342.95" y="122.69" width="2.26" height="22.92" fill="#fdb365"/>
<rect x="344.91" y="122.69" width="2.26" height="22.92" fill="#f88c51"/>
<rect x="346.87" y="122.69" width="2.26" height="22.92" fill="#f06744"/>
<rect x="348.84" y="122.69" width="2.26" height="22.92" fill="#e04e4b"/>
<rect x="350.80" y="122.69" width="2.26" height="22.92" fill="#d23b4e"/>
<rect x="352.76" y="122.69" width="2.26" height="22.92" fill="#c9314c"/>
<rect x="354.72" y="122.69" width="2.26" height="22.92" fill="#c1274a"/>
<rect x="356.68" y="122.69" width="2.26" height="22.92" fill="#b81e48"/>
<rect x="358.64" y="122.69" width="2.26" height="22.92" fill="#af1446"/>
<rect x="360.60" y="122.69" width="2.26" height="22.92" fill="#ad1246"/>
<rect x="362.57" y="122.69" width="2.26" height="22.92" fill="#ac1045"/>
<rect x="364.53" y="122.69" width="2.26" height="22.92" fill="#aa0f45"/>
<rect x="366.49" y="122.69" width="2.26" height="22.92" fill="#a90d45"/>
<rect x="368.45" y="122.69" width="2.26" height="22.92" fill="#ac1045"/>
<rect x="370.41" y="122.69" width="2.26" height="22.92" fill="#ae1346"/>
<rect x="372.37" y="122.69" width="2.26" height="22.92" fill="#b11646"/>
<rect x="374.33" y="122.69" width="2.26" height="22.92" fill="#b31847"/>
<rect x="376.29" y="122.69" width="2.26" height="22.92" fill="#b61b48"/>
<rect x="378.26" y="122.69" width="2.26" height="22.92" fill="#b81e48"/>
<rect x="380.22" y="122.69" width="2.26" height="22.92" fill="#bb2149"/>
<rect x="382.18" y="122.69" width="2.26" height="22.92" fill="#be244a"/>
<rect x="384.14" y="122.69" width="2.26" height="22.92" fill="#c1274a"/>
<rect x="386.10" y="122.69" width="2.26" height="22.92" fill="#c32a4b"/>
<rect x="388.06" y="122.69" width="2.26" height="22.92" fill="#c62d4b"/>
<rect x="390.02" y="122.69" width="2.26" height="22.92" fill="#c9304c"/>
<rect x="391.99" y="122.69" width="2.26" height="22.92" fill="#cb334d"/>
<rect x="393.95" y="122.69" width="2.26" height="22.92" fill="#ce364d"/>
<rect x="395.91" y="122.69" width="2.26" height="22.92" fill="#d1394e"/>
<rect x="397.87" y="122.69" width="2.26" height="22.92" fill="#d33c4f"/>
<rect x="399.83" y="122.69" width="2.26" height="22.92" fill="#d63f4f"/>
<rect x="401.79" y="122.69" width="2.26" height="22.92" fill="#d8424e"/>
<rect x="403.75" y="122.69" width="2.26" height="22.92" fill="#da454d"/>
<rect x="405.71" y="122.69" width="90.52" height="22.92" fill="#db474d"/>
<rect x="495.94" y="122.69" width="2.26" height="22.92" fill="#d8434e"/>
<rect x="497.90" y="122.69" width="2.26" height="22.92" fill="#d63f4f"/>
<rect x="499.86" y="122.69" width="2.26" height="22.92" fill="#d23b4e"/>
<rect x="501.82" y="122.69" width="2.26" height="22.92" fill="#ce364d"/>
<rect x="503.78" y="122.69" width="2.26" height="22.92" fill="#c9314c"/>
<rect x="505.74" y="122.69" width="2.26" height="22.92" fill="#c52c4b"/>
<rect x="507.70" y="122.69" width="2.26" height="22.92" fill="#c1284a"/>
<rect x="509.67" y="122.69" width="2.26" height="22.92" fill="#bc2349"/>
<rect x="511.63" y="122.69" width="2.26" height="22.92" fill="#b81e48"/>
<rect x="513.59" y="122.69" width="2.26" height="22.92" fill="#b41947"/>
<rect x="515.55" y="122.69" width="2.26" height="22.92" fill="#af1446"/>
<rect x="517.51" y="122.69" width="6.18" height="22.92" fill="#af1346"/>
<rect x="523.39" y="122.69" width="2.26" height="22.92" fill="#d1394e"/>
<rect x="525.36" y="122.69" width="2.26" height="22.92" fill="#f7864f"/>
<rect x="527.32" y="122.69" width="2.26" height="22.92" fill="#fee391"/>
<rect x="529.28" y="122.69" width="2.26" height="22.92" fill="#fdfebb"/>
<rect x="531.24" y="122.69" width="2.26" height="22.92" fill="#69c3a5"/>
<rect x="533.20" y="122.69" width="2.26" height="22.92" fill="#397eb8"/>
<rect x="535.16" y="122.69" width="4.22" height="22.92" fill="#4c66ad"/>
<rect x="539.09" y="122.69" width="2.26" height="22.92" fill="#3a7eb8"/>
<rect x="541.05" y="122.69" width="2.26" height="22.92" fill="#429ab6"/>
<rect x="543.01" y="122.69" width="2.26" height="22.92" fill="#5db8a9"/>
<rect x="544.97" y="122.69" width="2.26" height="22.92" fill="#79c9a5"/>
<rect x="546.93" y="122.69" width="2.26" height="22.92" fill="#94d4a4"/>
<rect x="548.89" y="122.69" width="2.26" height="22.92" fill="#aedea3"/>
<rect x="550.85" y="122.69" width="2.26" height="22.92" fill="#c0e6a0"/>
<rect x="552.81" y="122.69" width="2.26" height="22.92" fill="#d3ed9c"/>
<rect x="554.78" y="122.69" width="2.26" height="22.92" fill="#e6f598"/>
<rect x="556.74" y="122.69" width="2.26" height="22.92" fill="#edf8a2"/>
<rect x="558.70" y="122.69" width="2.26" height="22.92" fill="#f1f9a9"/>
<rect x="560.66" y="122.69" width="2.26" height="22.92" fill="#f5fbaf"/>
<rect x="562.62" y="122.69" width="2.26" height="22.92" fill="#f9fdb6"/>
<rect x="564.58" y="122.69" width="2.26" height="22.92" fill="#fcfeba"/>
<rect x="566.54" y="122.69" width="2.26" height="22.92" fill="#feffbe"/>
<rect x="568.51" y="122.69" width="2.26" height="22.92" fill="#fffdbc"/>
<rect x="570.47" y="122.69" width="2.26" height="22.92" fill="#fffab7"/>
<rect x="572.43" y="122.69" width="2.26" height="22.92" fill="#fff8b3"/>
<rect x="574.39" y="122.69" width="2.26" height="22.92" fill="#fff4ad"/>
<rect x="576.35" y="122.69" width="2.26" height="22.92" fill="#feec9e"/>
<rect x="578.31" y="122.69" width="2.26" height="22.92" fill="#fee390"/>
<rect x="580.27" y="122.69" width="2.26" height="22.92" fill="#fedb87"/>
<rect x="582.23" y="122.69" width="2.26" height="22.92" fill="#fed380"/>
<rect x="584.20" y="122.69" width="2.26" height="22.92" fill="#fecb7a"/>
<rect x="586.16" y="122.69" width="2.26" height="22.92" fill="#fdc373"/>
<rect x="588.12" y="122.69" width="2.26" height="22.92" fill="#fdbc6c"/>
<rect x="590.08" y="122.69" width="2.26" height="22.92" fill="#fdb466"/>
<rect x="592.04" y="122.69" width="2.26" height="22.92" fill="#fdad61"/>
<rect x="594.00" y="122.69" width="2.26" height="22.92" fill="#fca45d"/>
<rect x="595.96" y="122.69" width="2.26" height="22.92" fill="#fa9b58"/>
<rect x="597.93" y="122.69" width="2.26" height="22.92" fill="#f99254"/>
<rect x="599.89" y="122.69" width="2.26" height="22.92" fill="#f88a51"/>
<rect x="601.85" y="122.69" width="2.26" height="22.92" fill="#f7834d"/>
<rect x="603.81" y="122.69" width="2.26" height="22.92" fill="#f67d4a"/>
<rect x="605.77" y="122.69" width="2.26" height="22.92" fill="#d9f09b"/>
<rect x="607.73" y="122.69" width="2.26" height="22.92" fill="#66c2a5"/>
<rect x="609.69" y="122.69" width="2.26" height="22.92" fill="#c8304c"/>
<rect x="611.65" y="122.69" width="2.26" height="22.92" fill="#ba2049"/>
<rect x="613.62" y="122.69" width="2.26" height="22.92" fill="#ae1346"/>
<rect x="615.58" y="122.69" width="2.26" height="22.92" fill="#aa0e45"/>
<rect x="617.54" y="122.69" width="2.26" height="22.92" fill="#a60944"/>
<rect x="325.30" y="145.32" width="2.26" height="22.92" fill="#abdda4"/>
<rect x="327.26" y="145.32" width="2.26" height="22.92" fill="#b9e3a1"/>
<rect x="329.22" y="145.32" width="2.26" height="22.92" fill="#dff299"/>
<rect x="331.18" y="145.32" width="2.26" height="22.92" fill="#f0f9a8"/>
<rect x="333.15" y="145.32" width="2.26" height="22.92" fill="#fbfdb8"/>
<rect x="335.11" y="145.32" width="2.26" height="22.92" fill="#fff8b3"/>
<rect x="337.07" y="145.32" width="2.26" height="22.92" fill="#feeb9e"/>
<rect x="339.03" y="145.32" width="2.26" height="22.92" fill="#fede8a"/>
<rect x="340.99" y="145.32" width="2.26" height="22.92" fill="#fdbe6f"/>
<rect x="342.95" y="145.32" width="2.26" height="22.92" fill="#fa9b58"/>
<rect x="344.91" y="145.32" width="2.26" height="22.92" fill="#f67a49"/>
<rect x="346.87" y="145.32" width="2.26" height="22.92" fill="#eb5f47"/>
<rect x="348.84" y="145.32" width="2.26" height="22.92" fill="#de4b4c"/>
<rect x="350.80" y="145.32" width="2.26" height="22.92" fill="#d13a4e"/>
<rect x="352.76" y="145.32" width="2.26" height="22.92" fill="#c72e4c"/>
<rect x="354.72" y="145.32" width="2.26" height="22.92" fill="#bd2349"/>
<rect x="356.68" y="145.32" width="2.26" height="22.92" fill="#b41947"/>
<rect x="358.64" y="145.32" width="2.26" height="22.92" fill="#b11747"/>
<rect x="360.60" y="145.32" width="2.26" height="22.92" fill="#af1446"/>
<rect x="362.57" y="145.32" width="2.26" height="22.92" fill="#ad1246"/>
<rect x="364.53" y="145.32" width="2.26" height="22.92" fill="#ab0f45"/>
<rect x="366.49" y="145.32" width="2.26" height="22.92" fill="#a90d45"/>
<rect x="368.45" y="145.32" width="2.26" height="22.92" fill="#ab1045"/>
<rect x="370.41" y="145.32" width="2.26" height="22.92" fill="#ae1246"/>
<rect x="372.37" y="145.32" width="2.26" height="22.92" fill="#b01546"/>
<rect x="374.33" y="145.32" width="2.26" height="22.92" fill="#b21747"/>
<rect x="376.29" y="145.32" width="2.26" height="22.92" fill="#b41947"/>
<rect x="378.26" y="145.32" width="2.26" height="22.92" fill="#b51b48"/>
<rect x="380.22" y="145.32" width="2.26" height="22.92" fill="#b71c48"/>
<rect x="382.18" y="145.32" width="2.26" height="22.92" fill="#b81e48"/>
<rect x="384.14" y="145.32" width="2.26" height="22.92" fill="#b91f48"/>
<rect x="386.10" y="145.32" width="2.26" height="22.92" fill="#ba2049"/>
<rect x="388.06" y="145.32" width="2.26" height="22.92" fill="#bb2249"/>
<rect x="390.02" y="145.32" width="2.26" height="22.92" fill="#bd2349"/>
<rect x="391.99" y="145.32" width="2.26" height="22.92" fill="#be244a"/>
<rect x="393.95" y="145.32" width="2.26" height="22.92" fill="#bf264a"/>
<rect x="395.91" y="145.32" width="2.26" height="22.92" fill="#c1284a"/>
<rect x="397.87" y="145.32" width="2.26" height="22.92" fill="#c32a4b"/>
<rect x="399.83" y="145.32" width="25.80" height="22.92" fill="#c42c4b"/>
<rect x="425.33" y="145.32" width="2.26" height="22.92" fill="#c52c4b"/>
<rect x="427.29" y="145.32" width="2.26" height="22.92" fill="#c52d4b"/>
<rect x="429.25" y="145.32" width="4.22" height="22.92" fill="#c62d4b"/>
<rect x="433.17" y="145.32" width="4.22" height="22.92" fill="#c72e4c"/>
<rect x="437.10" y="145.32" width="2.26" height="22.92" fill="#c72f4c"/>
<rect x="439.06" y="145.32" width="2.26" height="22.92" fill="#c82f4c"/>
<rect x="441.02" y="145.32" width="2.26" height="22.92" fill="#c8304c"/>
<rect x="442.98" y="145.32" width="2.26" height="22.92" fill="#c9304c"/>
<rect x="444.94" y="145.32" width="2.26" height="22.92" fill="#c9314c"/>
<rect x="446.90" y="145.32" width="2.26" height="22.92" fill="#ca314c"/>
<rect x="448.86" y="145.32" width="2.26" height="22.92" fill="#ca324c"/>
<rect x="450.83" y="145.32" width="2.26" height="22.92" fill="#cb334d"/>
<rect x="452.79" y="145.32" width="2.26" height="22.92" fill="#cc344d"/>
<rect x="454.75" y="145.32" width="2.26" height="22.92" fill="#cd354d"/>
<rect x="456.71" y="145.32" width="2.26" height="22.92" fill="#cd364d"/>
<rect x="458.67" y="145.32" width="2.26" height="22.92" fill="#ce374d"/>
<rect x="460.63" y="145.32" width="2.26" height="22.92" fill="#cf384e"/>
<rect x="462.59" y="145.32" width="2.26" height="22.92" fill="#d0394e"/>
<rect x="464.55" y="145.32" width="2.26" height="22.92" fill="#d13a4e"/>
<rect x="466.52" y="145.32" width="2.26" height="22.92" fill="#d23b4e"/>
<rect x="468.48" y="145.32" width="2.26" height="22.92" fill="#d33b4e"/>
<rect x="470.44" y="145.32" width="2.26" height="22.92" fill="#d43c4f"/>
<rect x="472.40" y="145.32" width="2.26" height="22.92" fill="#d43d4f"/>
<rect x="474.36" y="145.32" width="2.26" height="22.92" fill="#d53e4f"/>
<rect x="476.32" y="145.32" width="2.26" height="22.92" fill="#d53f4f"/>
<rect x="478.28" y="145.32" width="4.22" height="22.92" fill="#d63f4f"/>
<rect x="482.21" y="145.32" width="2.26" height="22.92" fill="#d6404f"/>
<rect x="484.17" y="145.32" width="2.26" height="22.92" fill="#d6404e"/>
<rect x="486.13" y="145.32" width="2.26" height="22.92" fill="#d7404e"/>
<rect x="488.09" y="145.32" width="6.18" height="22.92" fill="#d7414e"/>
<rect x="493.97" y="145.32" width="4.22" height="22.92" fill="#d8424e"/>
<rect x="497.90" y="145.32" width="2.26" height="22.92" fill="#d8434e"/>
<rect x="499.86" y="145.32" width="2.26" height="22.92" fill="#d8424e"/>
<rect x="501.82" y="145.32" width="4.22" height="22.92" fill="#d7414e"/>
<rect x="505.74" y="145.32" width="2.26" height="22.92" fill="#d6404e"/>
<rect x="507.70" y="145.32" width="2.26" height="22.92" fill="#d63f4f"/>
<rect x="509.67" y="145.32" width="2.26" height="22.92" fill="#d53e4f"/>
<rect x="511.63" y="145.32" width="2.26" height="22.92" fill="#d23b4e"/>
<rect x="513.59" y="145.32" width="2.26" height="22.92" fill="#cb334d"/>
<rect x="515.55" y="145.32" width="2.26" height="22.92" fill="#c42b4b"/>
<rect x="517.51" y="145.32" width="2.26" height="22.92" fill="#bd2349"/>
<rect x="519.47" y="145.32" width="2.26" height="22.92" fill="#b61c48"/>
<rect x="521.43" y="145.32" width="2.26" height="22.92" fill="#b01446"/>
<rect x="523.39" y="145.32" width="2.26" height="22.92" fill="#a90d45"/>
<rect x="525.36" y="145.32" width="2.26" height="22.92" fill="#ab0f45"/>
<rect x="527.32" y="145.32" width="2.26" height="22.92" fill="#ad1145"/>
<rect x="529.28" y="145.32" width="2.26" height="22.92" fill="#b41a47"/>
<rect x="531.24" y="145.32" width="2.26" height="22.92" fill="#feca78"/>
<rect x="533.20" y="145.32" width="2.26" height="22.92" fill="#eef8a5"/>
<rect x="535.16" y="145.32" width="2.26" height="22.92" fill="#8dd1a4"/>
<rect x="537.12" y="145.32" width="2.26" height="22.92" fill="#3e95b8"/>
<rect x="539.09" y="145.32" width="2.26" height="22.92" fill="#4273b3"/>
<rect x="541.05" y="145.32" width="2.26" height="22.92" fill="#555ba8"/>
<rect x="543.01" y="145.32" width="2.26" height="22.92" fill="#4372b2"/>
<rect x="544.97" y="145.32" width="2.26" height="22.92" fill="#358bbc"/>
<rect x="546.93" y="145.32" width="2.26" height="22.92" fill="#5eb9a9"/>
<rect x="548.89" y="145.32" width="2.26" height="22.92" fill="#83cda5"/>
<rect x="550.85" y="145.32" width="2.26" height="22.92" fill="#a6dba4"/>
<rect x="552.81" y="145.32" width="2.26" height="22.92" fill="#bbe4a1"/>
<rect x="554.78" y="145.32" width="2.26" height="22.92" fill="#ceeb9d"/>
<rect x="556.74" y="145.32" width="2.26" height="22.92" fill="#e1f399"/>
<rect x="558.70" y="145.32" width="2.26" height="22.92" fill="#ebf7a0"/>
<rect x="560.66" y="145.32" width="2.26" height="22.92" fill="#eff9a6"/>
<rect x="562.62" y="145.32" width="2.26" height="22.92" fill="#f3faad"/>
<rect x="564.58" y="145.32" width="2.26" height="22.92" fill="#f7fcb3"/>
<rect x="566.54" y="145.32" width="2.26" height="22.92" fill="#fbfdb9"/>
<rect x="568.51" y="145.32" width="2.26" height="22.92" fill="#ffffbf"/>
<rect x="570.47" y="145.32" width="2.26" height="22.92" fill="#fffab7"/>
<rect x="572.43" y="145.32" width="2.26" height="22.92" fill="#fff5af"/>
<rect x="574.39" y="145.32" width="2.26" height="22.92" fill="#fff0a6"/>
<rect x="576.35" y="145.32" width="2.26" height="22.92" fill="#feeb9e"/>
<rect x="578.31" y="145.32" width="2.26" height="22.92" fill="#fee696"/>
<rect x="580.27" y="145.32" width="2.26" height="22.92" fill="#fede89"/>
<rect x="582.23" y="145.32" width="2.26" height="22.92" fill="#fed17e"/>
<rect x="584.20" y="145.32" width="2.26" height="22.92" fill="#fdc373"/>
<rect x="586.16" y="145.32" width="2.26" height="22.92" fill="#fdb667"/>
<rect x="588.12" y="145.32" width="2.26" height="22.92" fill="#fb9f5a"/>
<rect x="590.08" y="145.32" width="2.26" height="22.92" fill="#f8874f"/>
<rect x="592.04" y="145.32" width="2.26" height="22.92" fill="#f46e43"/>
<rect x="594.00" y="145.32" width="2.26" height="22.92" fill="#eb5f47"/>
<rect x="595.96" y="145.32" width="2.26" height="22.92" fill="#e1504a"/>
<rect x="597.93" y="145.32" width="2.26" height="22.92" fill="#d7414e"/>
<rect x="599.89" y="145.32" width="2.26" height="22.92" fill="#cd354d"/>
<rect x="601.85" y="145.32" width="2.26" height="22.92" fill="#c32a4b"/>
<rect x="603.81" y="145.32" width="2.26" height="22.92" fill="#b91f48"/>
<rect x="605.77" y="145.32" width="2.26" height="22.92" fill="#af1446"/>
<rect x="607.73" y="145.32" width="2.26" height="22.92" fill="#ad1246"/>
<rect x="609.69" y="145.32" width="2.26" height="22.92" fill="#ac1045"/>
<rect x="611.65" y="145.32" width="2.26" height="22.92" fill="#aa0f45"/>
<rect x="613.62" y="145.32" width="2.26" height="22.92" fill="#b01546"/>
<rect x="615.58" y="145.32" width="2.26" height="22.92" fill="#f99555"/>
<rect x="617.54" y="145.32" width="2.26" height="22.92" fill="#f2faac"/>
<rect x="325.30" y="167.94" width="2.26" height="22.92" fill="#c8e99e"/>
<rect x="327.26" y="167.94" width="2.26" height="22.92" fill="#d7ef9b"/>
<rect x="329.22" y="167.94" width="2.26" height="22.92" fill="#eef8a5"/>
<rect x="331.18" y="167.94" width="2.26" height="22.92" fill="#f7fcb3"/>
<rect x="333.15" y="167.94" width="2.26" height="22.92" fill="#fffdbc"/>
<rect x="335.11" y="167.94" width="2.26" height="22.92" fill="#fff1a8"/>
<rect x="337.07" y="167.94" width="2.26" height="22.92" fill="#fee492"/>
<rect x="339.03" y="167.94" width="2.26" height="22.92" fill="#fecb79"/>
<rect x="340.99" y="167.94" width="2.26" height="22.92" fill="#fcaa5f"/>
<rect x="342.95" y="167.94" width="2.26" height="22.92" fill="#f7864f"/>
<rect x="344.91" y="167.94" width="2.26" height="22.92" fill="#f06645"/>
<rect x="346.87" y="167.94" width="2.26" height="22.92" fill="#e2524a"/>
<rect x="348.84" y="167.94" width="2.26" height="22.92" fill="#d63f4f"/>
<rect x="350.80" y="167.94" width="2.26" height="22.92" fill="#cd354d"/>
<rect x="352.76" y="167.94" width="2.26" height="22.92" fill="#c42b4b"/>
<rect x="354.72" y="167.94" width="2.26" height="22.92" fill="#bb2149"/>
<rect x="356.68" y="167.94" width="2.26" height="22.92" fill="#b31947"/>
<rect x="358.64" y="167.94" width="2.26" height="22.92" fill="#af1446"/>
<rect x="360.60" y="167.94" width="2.26" height="22.92" fill="#ab0f45"/>
<rect x="362.57" y="167.94" width="2.26" height="22.92" fill="#a60a44"/>
<rect x="364.53" y="167.94" width="2.26" height="22.92" fill="#a20543"/>
<rect x="366.49" y="167.94" width="15.99" height="22.92" fill="#9e0142"/>
<rect x="382.18" y="167.94" width="2.26" height="22.92" fill="#9f0242"/>
<rect x="384.14" y="167.94" width="2.26" height="22.92" fill="#aa0e45"/>
<rect x="386.10" y="167.94" width="51.29" height="22.92" fill="#af1346"/>
<rect x="437.10" y="167.94" width="2.26" height="22.92" fill="#b11647"/>
<rect x="439.06" y="167.94" width="15.99" height="22.92" fill="#b41947"/>
<rect x="454.75" y="167.94" width="2.26" height="22.92" fill="#b91f48"/>
<rect x="456.71" y="167.94" width="2.26" height="22.92" fill="#be254a"/>
<rect x="458.67" y="167.94" width="2.26" height="22.92" fill="#c0264a"/>
<rect x="460.63" y="167.94" width="2.26" height="22.92" fill="#c1274a"/>
<rect x="462.59" y="167.94" width="2.26" height="22.92" fill="#c2294a"/>
<rect x="464.55" y="167.94" width="2.26" height="22.92" fill="#c32a4b"/>
<rect x="466.52" y="167.94" width="2.26" height="22.92" fill="#c32b4b"/>
<rect x="468.48" y="167.94" width="2.26" height="22.92" fill="#c42c4b"/>
<rect x="470.44" y="167.94" width="2.26" height="22.92" fill="#c62e4c"/>
<rect x="472.40" y="167.94" width="2.26" height="22.92" fill="#c8304c"/>
<rect x="474.36" y="167.94" width="2.26" height="22.92" fill="#cb324d"/>
<rect x="476.32" y="167.94" width="2.26" height="22.92" fill="#cd354d"/>
<rect x="478.28" y="167.94" width="2.26" height="22.92" fill="#cf374e"/>
<rect x="480.25" y="167.94" width="2.26" height="22.92" fill="#d1394e"/>
<rect x="482.21" y="167.94" width="2.26" height="22.92" fill="#d33c4f"/>
<rect x="484.17" y="167.94" width="2.26" height="22.92" fill="#d53e4f"/>
<rect x="486.13" y="167.94" width="2.26" height="22.92" fill="#d6404e"/>
<rect x="488.09" y="167.94" width="2.26" height="22.92" fill="#d8424e"/>
<rect x="490.05" y="167.94" width="2.26" height="22.92" fill="#d9444e"/>
<rect x="492.01" y="167.94" width="2.26" height="22.92" fill="#da454d"/>
<rect x="493.97" y="167.94" width="2.26" height="22.92" fill="#da464d"/>
<rect x="495.94" y="167.94" width="2.26" height="22.92" fill="#db474d"/>
<rect x="497.90" y="167.94" width="2.26" height="22.92" fill="#dc494c"/>
<rect x="499.86" y="167.94" width="2.26" height="22.92" fill="#dd4a4c"/>
<rect x="501.82" y="167.94" width="2.26" height="22.92" fill="#de4b4c"/>
<rect x="503.78" y="167.94" width="2.26" height="22.92" fill="#de4c4b"/>
<rect x="505.74" y="167.94" width="2.26" height="22.92" fill="#dd4a4c"/>
<rect x="507.70" y="167.94" width="2.26" height="22.92" fill="#db474d"/>
<rect x="509.67" y="167.94" width="2.26" height="22.92" fill="#da454d"/>
<rect x="511.63" y="167.94" width="2.26" height="22.92" fill="#d8434e"/>
<rect x="513.59" y="167.94" width="2.26" height="22.92" fill="#d7414e"/>
<rect x="515.55" y="167.94" width="2.26" height="22.92" fill="#d53e4f"/>
<rect x="517.51" y="167.94" width="2.26" height="22.92" fill="#cf384e"/>
<rect x="519.47" y="167.94" width="2.26" height="22.92" fill="#c8304c"/>
<rect x="521.43" y="167.94" width="2.26" height="22.92" fill="#c1284a"/>
<rect x="523.39" y="167.94" width="2.26" height="22.92" fill="#ba2049"/>
<rect x="525.36" y="167.94" width="2.26" height="22.92" fill="#b31847"/>
<rect x="527.32" y="167.94" width="2.26" height="22.92" fill="#ad1145"/>
<rect x="529.28" y="167.94" width="2.26" height="22.92" fill="#a90e45"/>
<rect x="531.24" y="167.94" width="2.26" height="22.92" fill="#ab1045"/>
<rect x="533.20" y="167.94" width="2.26" height="22.92" fill="#ad1246"/>
<rect x="535.16" y="167.94" width="2.26" height="22.92" fill="#cd354d"/>
<rect x="537.12" y="167.94" width="2.26" height="22.92" fill="#fff1a7"/>
<rect x="539.09" y="167.94" width="2.26" height="22.92" fill="#ffffbf"/>
<rect x="541.05" y="167.94" width="2.26" height="22.92" fill="#469eb4"/>
<rect x="543.01" y="167.94" width="2.26" height="22.92" fill="#3d79b6"/>
<rect x="544.97" y="167.94" width="2.26" height="22.92" fill="#4b68ae"/>
<rect x="546.93" y="167.94" width="2.26" height="22.92" fill="#3683ba"/>
<rect x="548.89" y="167.94" width="2.26" height="22.92" fill="#53acae"/>
<rect x="550.85" y="167.94" width="2.26" height="22.92" fill="#7ccaa5"/>
<rect x="552.81" y="167.94" width="2.26" height="22.92" fill="#a5dba4"/>
<rect x="554.78" y="167.94" width="2.26" height="22.92" fill="#c7e89e"/>
<rect x="556.74" y="167.94" width="2.26" height="22.92" fill="#e7f599"/>
<rect x="558.70" y="167.94" width="2.26" height="22.92" fill="#eff9a7"/>
<rect x="560.66" y="167.94" width="2.26" height="22.92" fill="#f6fbb1"/>
<rect x="562.62" y="167.94" width="2.26" height="22.92" fill="#fcfeba"/>
<rect x="564.58" y="167.94" width="2.26" height="22.92" fill="#fffbb8"/>
<rect x="566.54" y="167.94" width="2.26" height="22.92" fill="#fff2aa"/>
<rect x="568.51" y="167.94" width="2.26" height="22.92" fill="#feea9c"/>
<rect x="570.47" y="167.94" width="2.26" height="22.92" fill="#fee28f"/>
<rect x="572.43" y="167.94" width="2.26" height="22.92" fill="#fed581"/>
<rect x="574.39" y="167.94" width="2.26" height="22.92" fill="#fdc574"/>
<rect x="576.35" y="167.94" width="2.26" height="22.92" fill="#fdb567"/>
<rect x="578.31" y="167.94" width="2.26" height="22.92" fill="#fba35c"/>
<rect x="580.27" y="167.94" width="2.26" height="22.92" fill="#f98e52"/>
<rect x="582.23" y="167.94" width="2.26" height="22.92" fill="#f67949"/>
<rect x="584.20" y="167.94" width="2.26" height="22.92" fill="#f06745"/>
<rect x="586.16" y="167.94" width="2.26" height="22.92" fill="#e65848"/>
<rect x="588.12" y="167.94" width="2.26" height="22.92" fill="#dd494c"/>
<rect x="590.08" y="167.94" width="2.26" height="22.92" fill="#d33b4e"/>
<rect x="592.04" y="167.94" width="2.26" height="22.92" fill="#c9304c"/>
<rect x="594.00" y="167.94" width="2.26" height="22.92" fill="#be254a"/>
<rect x="595.96" y="167.94" width="2.26" height="22.92" fill="#b41a47"/>
<rect x="597.93" y="167.94" width="2.26" height="22.92" fill="#ad1246"/>
<rect x="599.89" y="167.94" width="2.26" height="22.92" fill="#ab0f45"/>
<rect x="601.85" y="167.94" width="2.26" height="22.92" fill="#a90d44"/>
<rect x="603.81" y="167.94" width="2.26" height="22.92" fill="#a60a44"/>
<rect x="605.77" y="167.94" width="2.26" height="22.92" fill="#a40743"/>
<rect x="607.73" y="167.94" width="2.26" height="22.92" fill="#a90d45"/>
<rect x="609.69" y="167.94" width="2.26" height="22.92" fill="#af1446"/>
<rect x="611.65" y="167.94" width="2.26" height="22.92" fill="#b51a47"/>
<rect x="613.62" y="167.94" width="2.26" height="22.92" fill="#bc2349"/>
<rect x="615.58" y="167.94" width="2.26" height="22.92" fill="#cf374e"/>
<rect x="617.54" y="167.94" width="2.26" height="22.92" fill="#e35449"/>
<rect x="325.30" y="190.56" width="2.26" height="22.92" fill="#e6f598"/>
<rect x="327.26" y="190.56" width="2.26" height="22.92" fill="#ebf7a0"/>
<rect x="329.22" y="190.56" width="2.26" height="22.92" fill="#f8fcb4"/>
<rect x="331.18" y="190.56" width="2.26" height="22.92" fill="#ffffbf"/>
<rect x="333.15" y="190.56" width="2.26" height="22.92" fill="#fff5af"/>
<rect x="335.11" y="190.56" width="2.26" height="22.92" fill="#fee593"/>
<rect x="337.07" y="190.56" width="2.26" height="22.92" fill="#fecd7b"/>
<rect x="339.03" y="190.56" width="2.26" height="22.92" fill="#fdb365"/>
<rect x="340.99" y="190.56" width="2.26" height="22.92" fill="#f99254"/>
<rect x="342.95" y="190.56" width="2.26" height="22.92" fill="#f47145"/>
<rect x="344.91" y="190.56" width="2.26" height="22.92" fill="#e75948"/>
<rect x="346.87" y="190.56" width="2.26" height="22.92" fill="#da464d"/>
<rect x="348.84" y="190.56" width="2.26" height="22.92" fill="#cf374d"/>
<rect x="350.80" y="190.56" width="2.26" height="22.92" fill="#c42b4b"/>
<rect x="352.76" y="190.56" width="2.26" height="22.92" fill="#ba2049"/>
<rect x="354.72" y="190.56" width="2.26" height="22.92" fill="#b21847"/>
<rect x="356.68" y="190.56" width="2.26" height="22.92" fill="#af1346"/>
<rect x="358.64" y="190.56" width="2.26" height="22.92" fill="#ab0f45"/>
<rect x="360.60" y="190.56" width="2.26" height="22.92" fill="#a70b44"/>
<rect x="362.57" y="190.56" width="2.26" height="22.92" fill="#a30743"/>
<rect x="364.53" y="190.56" width="2.26" height="22.92" fill="#9f0242"/>
<rect x="366.49" y="190.56" width="15.99" height="22.92" fill="#9e0142"/>
<rect x="382.18" y="190.56" width="2.26" height="22.92" fill="#9f0242"/>
<rect x="384.14" y="190.56" width="2.26" height="22.92" fill="#a60a44"/>
<rect x="386.10" y="190.56" width="53.26" height="22.92" fill="#a90d45"/>
<rect x="439.06" y="190.56" width="2.26" height="22.92" fill="#ac1045"/>
<rect x="441.02" y="190.56" width="2.26" height="22.92" fill="#ae1346"/>
<rect x="442.98" y="190.56" width="12.07" height="22.92" fill="#af1346"/>
<rect x="454.75" y="190.56" width="2.26" height="22.92" fill="#b31947"/>
<rect x="456.71" y="190.56" width="2.26" height="22.92" fill="#b91f48"/>
<rect x="458.67" y="190.56" width="8.15" height="22.92" fill="#ba2048"/>
<rect x="466.52" y="190.56" width="2.26" height="22.92" fill="#bb2249"/>
<rect x="468.48" y="190.56" width="2.26" height="22.92" fill="#c3294b"/>
<rect x="470.44" y="190.56" width="2.26" height="22.92" fill="#c62e4c"/>
<rect x="472.40" y="190.56" width="2.26" height="22.92" fill="#c9314c"/>
<rect x="474.36" y="190.56" width="2.26" height="22.92" fill="#cc344d"/>
<rect x="476.32" y="190.56" width="2.26" height="22.92" fill="#cf374e"/>
<rect x="478.28" y="190.56" width="2.26" height="22.92" fill="#d13a4e"/>
<rect x="480.25" y="190.56" width="2.26" height="22.92" fill="#d43d4f"/>
<rect x="482.21" y="190.56" width="2.26" height="22.92" fill="#d6404f"/>
<rect x="484.17" y="190.56" width="2.26" height="22.92" fill="#d8424e"/>
<rect x="486.13" y="190.56" width="2.26" height="22.92" fill="#d9444d"/>
<rect x="488.09" y="190.56" width="2.26" height="22.92" fill="#db474d"/>
<rect x="490.05" y="190.56" width="2.26" height="22.92" fill="#dc494c"/>
<rect x="492.01" y="190.56" width="2.26" height="22.92" fill="#dd4b4c"/>
<rect x="493.97" y="190.56" width="2.26" height="22.92" fill="#df4c4b"/>
<rect x="495.94" y="190.56" width="2.26" height="22.92" fill="#e04e4b"/>
<rect x="497.90" y="190.56" width="2.26" height="22.92" fill="#e1504a"/>
<rect x="499.86" y="190.56" width="2.26" height="22.92" fill="#e2524a"/>
<rect x="501.82" y="190.56" width="2.26" height="22.92" fill="#e35449"/>
<rect x="503.78" y="190.56" width="4.22" height="22.92" fill="#e45549"/>
<rect x="507.70" y="190.56" width="2.26" height="22.92" fill="#e35449"/>
<rect x="509.67" y="190.56" width="2.26" height="22.92" fill="#e3534a"/>
<rect x="511.63" y="190.56" width="4.22" height="22.92" fill="#e2524a"/>
<rect x="515.55" y="190.56" width="2.26" height="22.92" fill="#e1514a"/>
<rect x="517.51" y="190.56" width="2.26" height="22.92" fill="#df4d4b"/>
<rect x="519.47" y="190.56" width="2.26" height="22.92" fill="#dc484c"/>
<rect x="521.43" y="190.56" width="2.26" height="22.92" fill="#d8434e"/>
<rect x="523.39" y="190.56" width="2.26" height="22.92" fill="#d53e4f"/>
<rect x="525.36" y="190.56" width="2.26" height="22.92" fill="#ce364d"/>
<rect x="527.32" y="190.56" width="2.26" height="22.92" fill="#c72e4c"/>
<rect x="529.28" y="190.56" width="2.26" height="22.92" fill="#bf264a"/>
<rect x="531.24" y="190.56" width="2.26" height="22.92" fill="#b91e48"/>
<rect x="533.20" y="190.56" width="2.26" height="22.92" fill="#b41a47"/>
<rect x="535.16" y="190.56" width="2.26" height="22.92" fill="#b01546"/>
<rect x="537.12" y="190.56" width="2.26" height="22.92" fill="#ac1045"/>
<rect x="539.09" y="190.56" width="2.26" height="22.92" fill="#a90d45"/>
<rect x="541.05" y="190.56" width="2.26" height="22.92" fill="#fdb96a"/>
<rect x="543.01" y="190.56" width="2.26" height="22.92" fill="#fec776"/>
<rect x="544.97" y="190.56" width="2.26" height="22.92" fill="#60bba8"/>
<rect x="546.93" y="190.56" width="2.26" height="22.92" fill="#3584bb"/>
<rect x="548.89" y="190.56" width="2.26" height="22.92" fill="#397fb9"/>
<rect x="550.85" y="190.56" width="2.26" height="22.92" fill="#3a91b9"/>
<rect x="552.81" y="190.56" width="2.26" height="22.92" fill="#60bba8"/>
<rect x="554.78" y="190.56" width="2.26" height="22.92" fill="#96d5a4"/>
<rect x="556.74" y="190.56" width="2.26" height="22.92" fill="#c8e99e"/>
<rect x="558.70" y="190.56" width="2.26" height="22.92" fill="#ecf7a1"/>
<rect x="560.66" y="190.56" width="2.26" height="22.92" fill="#f4faad"/>
<rect x="562.62" y="190.56" width="2.26" height="22.92" fill="#fbfeb9"/>
<rect x="564.58" y="190.56" width="2.26" height="22.92" fill="#fff8b4"/>
<rect x="566.54" y="190.56" width="2.26" height="22.92" fill="#feeca0"/>
<rect x="568.51" y="190.56" width="2.26" height="22.92" fill="#fee08b"/>
<rect x="570.47" y="190.56" width="2.26" height="22.92" fill="#fecd7b"/>
<rect x="572.43" y="190.56" width="2.26" height="22.92" fill="#fdb96a"/>
<rect x="574.39" y="190.56" width="2.26" height="22.92" fill="#fba25c"/>
<rect x="576.35" y="190.56" width="2.26" height="22.92" fill="#f88850"/>
<rect x="578.31" y="190.56" width="2.26" height="22.92" fill="#f46e44"/>
<rect x="580.27" y="190.56" width="2.26" height="22.92" fill="#e95c47"/>
<rect x="582.23" y="190.56" width="2.26" height="22.92" fill="#dc494c"/>
<rect x="584.20" y="190.56" width="2.26" height="22.92" fill="#d13a4e"/>
<rect x="586.16" y="190.56" width="2.26" height="22.92" fill="#c72e4c"/>
<rect x="588.12" y="190.56" width="2.26" height="22.92" fill="#bd2349"/>
<rect x="590.08" y="190.56" width="2.26" height="22.92" fill="#b31847"/>
<rect x="592.04" y="190.56" width="2.26" height="22.92" fill="#ac1145"/>
<rect x="594.00" y="190.56" width="2.26" height="22.92" fill="#a90d45"/>
<rect x="595.96" y="190.56" width="2.26" height="22.92" fill="#a50944"/>
<rect x="597.93" y="190.56" width="2.26" height="22.92" fill="#a10543"/>
<rect x="599.89" y="190.56" width="2.26" height="22.92" fill="#9f0242"/>
<rect x="601.85" y="190.56" width="2.26" height="22.92" fill="#a60a44"/>
<rect x="603.81" y="190.56" width="2.26" height="22.92" fill="#ad1146"/>
<rect x="605.77" y="190.56" width="2.26" height="22.92" fill="#b41947"/>
<rect x="607.73" y="190.56" width="2.26" height="22.92" fill="#c1274a"/>
<rect x="609.69" y="190.56" width="2.26" height="22.92" fill="#ce364d"/>
<rect x="611.65" y="190.56" width="2.26" height="22.92" fill="#df4e4b"/>
<rect x="613.62" y="190.56" width="2.26" height="22.92" fill="#f57547"/>
<rect x="615.58" y="190.56" width="2.26" height="22.92" fill="#fcaa5f"/>
<rect x="617.54" y="190.56" width="2.26" height="22.92" fill="#fec877"/>
<rect x="325.30" y="213.18" width="6.18" height="22.92" fill="#eef8a4"/>
<rect x="331.18" y="213.18" width="2.26" height="22.92" fill="#fafdb7"/>
<rect x="333.15" y="213.18" width="2.26" height="22.92" fill="#ffffbf"/>
<rect x="335.11" y="213.18" width="2.26" height="22.92" fill="#fff3ab"/>
<rect x="337.07" y="213.18" width="2.26" height="22.92" fill="#fecf7d"/>
<rect x="339.03" y="213.18" width="2.26" height="22.92" fill="#fdb163"/>
<rect x="340.99" y="213.18" width="2.26" height="22.92" fill="#f98e52"/>
<rect x="342.95" y="213.18" width="2.26" height="22.92" fill="#f46e44"/>
<rect x="344.91" y="213.18" width="2.26" height="22.92" fill="#e75a48"/>
<rect x="346.87" y="213.18" width="2.26" height="22.92" fill="#db484c"/>
<rect x="348.84" y="213.18" width="2.26" height="22.92" fill="#d53e4f"/>
<rect x="350.80" y="213.18" width="2.26" height="22.92" fill="#c9314c"/>
<rect x="352.76" y="213.18" width="2.26" height="22.92" fill="#c0274a"/>
<rect x="354.72" y="213.18" width="2.26" height="22.92" fill="#b91f48"/>
<rect x="356.68" y="213.18" width="2.26" height="22.92" fill="#b21747"/>
<rect x="358.64" y="213.18" width="2.26" height="22.92" fill="#a90d45"/>
<rect x="360.60" y="213.18" width="2.26" height="22.92" fill="#9f0342"/>
<rect x="362.57" y="213.18" width="66.99" height="22.92" fill="#9e0142"/>
<rect x="429.25" y="213.18" width="2.26" height="22.92" fill="#a00342"/>
<rect x="431.21" y="213.18" width="8.15" height="22.92" fill="#a90d45"/>
<rect x="439.06" y="213.18" width="2.26" height="22.92" fill="#b01546"/>
<rect x="441.02" y="213.18" width="14.03" height="22.92" fill="#b41947"/>
<rect x="454.75" y="213.18" width="2.26" height="22.92" fill="#ba2049"/>
<rect x="456.71" y="213.18" width="14.03" height="22.92" fill="#bf264a"/>
<rect x="470.44" y="213.18" width="2.26" height="22.92" fill="#c72f4c"/>
<rect x="472.40" y="213.18" width="2.26" height="22.92" fill="#cb334d"/>
<rect x="474.36" y="213.18" width="2.26" height="22.92" fill="#cc344d"/>
<rect x="476.32" y="213.18" width="2.26" height="22.92" fill="#ce364d"/>
<rect x="478.28" y="213.18" width="2.26" height="22.92" fill="#cf374e"/>
<rect x="480.25" y="213.18" width="2.26" height="22.92" fill="#d23a4e"/>
<rect x="482.21" y="213.18" width="2.26" height="22.92" fill="#d53e4f"/>
<rect x="484.17" y="213.18" width="2.26" height="22.92" fill="#d7414e"/>
<rect x="486.13" y="213.18" width="2.26" height="22.92" fill="#d9434e"/>
<rect x="488.09" y="213.18" width="2.26" height="22.92" fill="#da464d"/>
<rect x="490.05" y="213.18" width="2.26" height="22.92" fill="#dc494c"/>
<rect x="492.01" y="213.18" width="2.26" height="22.92" fill="#de4c4b"/>
<rect x="493.97" y="213.18" width="2.26" height="22.92" fill="#e04f4b"/>
<rect x="495.94" y="213.18" width="2.26" height="22.92" fill="#e2524a"/>
<rect x="497.90" y="213.18" width="2.26" height="22.92" fill="#e45549"/>
<rect x="499.86" y="213.18" width="2.26" height="22.92" fill="#e55649"/>
<rect x="501.82" y="213.18" width="2.26" height="22.92" fill="#e55749"/>
<rect x="503.78" y="213.18" width="2.26" height="22.92" fill="#e65749"/>
<rect x="505.74" y="213.18" width="4.22" height="22.92" fill="#e65848"/>
<rect x="509.67" y="213.18" width="2.26" height="22.92" fill="#e75948"/>
<rect x="511.63" y="213.18" width="4.22" height="22.92" fill="#e75a48"/>
<rect x="515.55" y="213.18" width="2.26" height="22.92" fill="#e65848"/>
<rect x="517.51" y="213.18" width="2.26" height="22.92" fill="#e55649"/>
<rect x="519.47" y="213.18" width="2.26" height="22.92" fill="#e45549"/>
<rect x="521.43" y="213.18" width="2.26" height="22.92" fill="#e3534a"/>
<rect x="523.39" y="213.18" width="2.26" height="22.92" fill="#e1514a"/>
<rect x="525.36" y="213.18" width="2.26" height="22.92" fill="#de4c4b"/>
<rect x="527.32" y="213.18" width="2.26" height="22.92" fill="#db474d"/>
<rect x="529.28" y="213.18" width="2.26" height="22.92" fill="#d8424e"/>
<rect x="531.24" y="213.18" width="2.26" height="22.92" fill="#d33c4f"/>
<rect x="533.20" y="213.18" width="2.26" height="22.92" fill="#cb324d"/>
<rect x="535.16" y="213.18" width="2.26" height="22.92" fill="#c2294a"/>
<rect x="537.12" y="213.18" width="2.26" height="22.92" fill="#b91f48"/>
<rect x="539.09" y="213.18" width="2.26" height="22.92" fill="#b21847"/>
<rect x="541.05" y="213.18" width="2.26" height="22.92" fill="#ae1346"/>
<rect x="543.01" y="213.18" width="2.26" height="22.92" fill="#aa0e45"/>
<rect x="544.97" y="213.18" width="2.26" height="22.92" fill="#fee99a"/>
<rect x="546.93" y="213.18" width="2.26" height="22.92" fill="#ffffbf"/>
<rect x="548.89" y="213.18" width="2.26" height="22.92" fill="#459db4"/>
<rect x="550.85" y="213.18" width="2.26" height="22.92" fill="#4e63ac"/>
<rect x="552.81" y="213.18" width="2.26" height="22.92" fill="#3389bd"/>
<rect x="554.78" y="213.18" width="2.26" height="22.92" fill="#90d2a4"/>
<rect x="556.74" y="213.18" width="2.26" height="22.92" fill="#cdeb9d"/>
<rect x="558.70" y="213.18" width="2.26" height="22.92" fill="#f0f9a7"/>
<rect x="560.66" y="213.18" width="2.26" height="22.92" fill="#fdfebb"/>
<rect x="562.62" y="213.18" width="2.26" height="22.92" fill="#feefa4"/>
<rect x="564.58" y="213.18" width="2.26" height="22.92" fill="#fed884"/>
<rect x="566.54" y="213.18" width="2.26" height="22.92" fill="#fdbe6e"/>
<rect x="568.51" y="213.18" width="2.26" height="22.92" fill="#fba15b"/>
<rect x="570.47" y="213.18" width="2.26" height="22.92" fill="#f8884f"/>
<rect x="572.43" y="213.18" width="2.26" height="22.92" fill="#f46e44"/>
<rect x="574.39" y="213.18" width="2.26" height="22.92" fill="#e95d47"/>
<rect x="576.35" y="213.18" width="2.26" height="22.92" fill="#df4e4b"/>
<rect x="578.31" y="213.18" width="2.26" height="22.92" fill="#d63f4f"/>
<rect x="580.27" y="213.18" width="2.26" height="22.92" fill="#cb334d"/>
<rect x="582.23" y="213.18" width="2.26" height="22.92" fill="#c1284a"/>
<rect x="584.20" y="213.18" width="2.26" height="22.92" fill="#b71d48"/>
<rect x="586.16" y="213.18" width="2.26" height="22.92" fill="#ae1346"/>
<rect x="588.12" y="213.18" width="2.26" height="22.92" fill="#aa0e45"/>
<rect x="590.08" y="213.18" width="2.26" height="22.92" fill="#a50944"/>
<rect x="592.04" y="213.18" width="4.22" height="22.92" fill="#a10443"/>
<rect x="595.96" y="213.18" width="2.26" height="22.92" fill="#a90e45"/>
<rect x="597.93" y="213.18" width="2.26" height="22.92" fill="#b21747"/>
<rect x="599.89" y="213.18" width="2.26" height="22.92" fill="#bb2249"/>
<rect x="601.85" y="213.18" width="2.26" height="22.92" fill="#ca324c"/>
<rect x="603.81" y="213.18" width="2.26" height="22.92" fill="#d9444d"/>
<rect x="605.77" y="213.18" width="2.26" height="22.92" fill="#ea5d47"/>
<rect x="607.73" y="213.18" width="2.26" height="22.92" fill="#f67949"/>
<rect x="609.69" y="213.18" width="2.26" height="22.92" fill="#fa9b58"/>
<rect x="611.65" y="213.18" width="2.26" height="22.92" fill="#fdbb6c"/>
<rect x="613.62" y="213.18" width="2.26" height="22.92" fill="#fedb87"/>
<rect x="615.58" y="213.18" width="2.26" height="22.92" fill="#fff2a9"/>
<rect x="617.54" y="213.18" width="2.26" height="22.92" fill="#feffbe"/>
<rect x="325.30" y="235.81" width="6.18" height="22.92" fill="#f5fbaf"/>
<rect x="331.18" y="235.81" width="4.22" height="22.92" fill="#ffffbf"/>
<rect x="335.11" y="235.81" width="2.26" height="22.92" fill="#fee594"/>
<rect x="337.07" y="235.81" width="2.26" height="22.92" fill="#fdc675"/>
<rect x="339.03" y="235.81" width="2.26" height="22.92" fill="#fca75e"/>
<rect x="340.99" y="235.81" width="2.26" height="22.92" fill="#f7844e"/>
<rect x="342.95" y="235.81" width="2.26" height="22.92" fill="#f06745"/>
<rect x="344.91" y="235.81" width="2.26" height="22.92" fill="#e45449"/>
<rect x="346.87" y="235.81" width="2.26" height="22.92" fill="#d9454d"/>
<rect x="348.84" y="235.81" width="2.26" height="22.92" fill="#d13a4e"/>
<rect x="350.80" y="235.81" width="2.26" height="22.92" fill="#c62d4b"/>
<rect x="352.76" y="235.81" width="2.26" height="22.92" fill="#be254a"/>
<rect x="354.72" y="235.81" width="2.26" height="22.92" fill="#b71d48"/>
<rect x="356.68" y="235.81" width="2.26" height="22.92" fill="#af1446"/>
<rect x="358.64" y="235.81" width="2.26" height="22.92" fill="#a60a44"/>
<rect x="360.60" y="235.81" width="66.99" height="22.92" fill="#9e0142"/>
<rect x="427.29" y="235.81" width="2.26" height="22.92" fill="#a50944"/>
<rect x="429.25" y="235.81" width="6.18" height="22.92" fill="#a90d45"/>
<rect x="435.13" y="235.81" width="2.26" height="22.92" fill="#a90e45"/>
<rect x="437.10" y="235.81" width="2.26" height="22.92" fill="#b11646"/>
<rect x="439.06" y="235.81" width="2.26" height="22.92" fill="#b41a47"/>
<rect x="441.02" y="235.81" width="2.26" height="22.92" fill="#b51b47"/>
<rect x="442.98" y="235.81" width="2.26" height="22.92" fill="#b61c48"/>
<rect x="444.94" y="235.81" width="2.26" height="22.92" fill="#b71d48"/>
<rect x="446.90" y="235.81" width="2.26" height="22.92" fill="#b81e48"/>
<rect x="448.86" y="235.81" width="2.26" height="22.92" fill="#b91e48"/>
<rect x="450.83" y="235.81" width="2.26" height="22.92" fill="#b91f48"/>
<rect x="452.79" y="235.81" width="2.26" height="22.92" fill="#be254a"/>
<rect x="454.75" y="235.81" width="2.26" height="22.92" fill="#c42b4b"/>
<rect x="456.71" y="235.81" width="2.26" height="22.92" fill="#c52d4b"/>
<rect x="458.67" y="235.81" width="2.26" height="22.92" fill="#c62e4c"/>
<rect x="460.63" y="235.81" width="2.26" height="22.92" fill="#c72f4c"/>
<rect x="462.59" y="235.81" width="2.26" height="22.92" fill="#c8304c"/>
<rect x="464.55" y="235.81" width="2.26" height="22.92" fill="#c9314c"/>
<rect x="466.52" y="235.81" width="2.26" height="22.92" fill="#cb334d"/>
<rect x="468.48" y="235.81" width="2.26" height="22.92" fill="#d1394e"/>
<rect x="470.44" y="235.81" width="10.11" height="22.92" fill="#d53e4f"/>
<rect x="480.25" y="235.81" width="2.26" height="22.92" fill="#d7404e"/>
<rect x="482.21" y="235.81" width="2.26" height="22.92" fill="#d8434e"/>
<rect x="484.17" y="235.81" width="2.26" height="22.92" fill="#da464d"/>
<rect x="486.13" y="235.81" width="2.26" height="22.92" fill="#dc494c"/>
<rect x="488.09" y="235.81" width="2.26" height="22.92" fill="#de4b4c"/>
<rect x="490.05" y="235.81" width="2.26" height="22.92" fill="#e04e4b"/>
<rect x="492.01" y="235.81" width="2.26" height="22.92" fill="#e2514a"/>
<rect x="493.97" y="235.81" width="2.26" height="22.92" fill="#e35449"/>
<rect x="495.94" y="235.81" width="2.26" height="22.92" fill="#e55749"/>
<rect x="497.90" y="235.81" width="2.26" height="22.92" fill="#e75948"/>
<rect x="499.86" y="235.81" width="2.26" height="22.92" fill="#e85b48"/>
<rect x="501.82" y="235.81" width="2.26" height="22.92" fill="#e95c47"/>
<rect x="503.78" y="235.81" width="2.26" height="22.92" fill="#ea5e47"/>
<rect x="505.74" y="235.81" width="2.26" height="22.92" fill="#eb5f47"/>
<rect x="507.70" y="235.81" width="2.26" height="22.92" fill="#eb6046"/>
<rect x="509.67" y="235.81" width="2.26" height="22.92" fill="#ec6146"/>
<rect x="511.63" y="235.81" width="2.26" height="22.92" fill="#ed6246"/>
<rect x="513.59" y="235.81" width="2.26" height="22.92" fill="#ee6445"/>
<rect x="515.55" y="235.81" width="2.26" height="22.92" fill="#ed6346"/>
<rect x="517.51" y="235.81" width="2.26" height="22.92" fill="#ed6246"/>
<rect x="519.47" y="235.81" width="2.26" height="22.92" fill="#ec6146"/>
<rect x="521.43" y="235.81" width="2.26" height="22.92" fill="#eb6046"/>
<rect x="523.39" y="235.81" width="2.26" height="22.92" fill="#eb5f47"/>
<rect x="525.36" y="235.81" width="2.26" height="22.92" fill="#e75948"/>
<rect x="527.32" y="235.81" width="2.26" height="22.92" fill="#e3534a"/>
<rect x="529.28" y="235.81" width="2.26" height="22.92" fill="#df4d4b"/>
<rect x="531.24" y="235.81" width="2.26" height="22.92" fill="#db474d"/>
<rect x="533.20" y="235.81" width="2.26" height="22.92" fill="#d8434e"/>
<rect x="535.16" y="235.81" width="2.26" height="22.92" fill="#d6404f"/>
<rect x="537.12" y="235.81" width="2.26" height="22.92" fill="#cf374e"/>
<rect x="539.09" y="235.81" width="2.26" height="22.92" fill="#c42b4b"/>
<rect x="541.05" y="235.81" width="2.26" height="22.92" fill="#b91f48"/>
<rect x="543.01" y="235.81" width="2.26" height="22.92" fill="#b41947"/>
<rect x="544.97" y="235.81" width="4.22" height="22.92" fill="#af1346"/>
<rect x="548.89" y="235.81" width="2.26" height="22.92" fill="#e04f4b"/>
<rect x="550.85" y="235.81" width="2.26" height="22.92" fill="#fdae61"/>
<rect x="552.81" y="235.81" width="2.26" height="22.92" fill="#3288bd"/>
<rect x="554.78" y="235.81" width="2.26" height="22.92" fill="#85cea5"/>
<rect x="556.74" y="235.81" width="2.26" height="22.92" fill="#edf8a3"/>
<rect x="558.70" y="235.81" width="2.26" height="22.92" fill="#fffcbb"/>
<rect x="560.66" y="235.81" width="2.26" height="22.92" fill="#fedf8a"/>
<rect x="562.62" y="235.81" width="2.26" height="22.92" fill="#fdc070"/>
<rect x="564.58" y="235.81" width="2.26" height="22.92" fill="#fca35c"/>
<rect x="566.54" y="235.81" width="2.26" height="22.92" fill="#f8884f"/>
<rect x="568.51" y="235.81" width="2.26" height="22.92" fill="#f46d43"/>
<rect x="570.47" y="235.81" width="2.26" height="22.92" fill="#e85b48"/>
<rect x="572.43" y="235.81" width="2.26" height="22.92" fill="#dc484c"/>
<rect x="574.39" y="235.81" width="2.26" height="22.92" fill="#d0394e"/>
<rect x="576.35" y="235.81" width="2.26" height="22.92" fill="#c62e4c"/>
<rect x="578.31" y="235.81" width="2.26" height="22.92" fill="#bc2249"/>
<rect x="580.27" y="235.81" width="2.26" height="22.92" fill="#b21747"/>
<rect x="582.23" y="235.81" width="2.26" height="22.92" fill="#ac1045"/>
<rect x="584.20" y="235.81" width="2.26" height="22.92" fill="#a70b44"/>
<rect x="586.16" y="235.81" width="2.26" height="22.92" fill="#a30743"/>
<rect x="588.12" y="235.81" width="2.26" height="22.92" fill="#9f0242"/>
<rect x="590.08" y="235.81" width="2.26" height="22.92" fill="#a50944"/>
<rect x="592.04" y="235.81" width="2.26" height="22.92" fill="#ae1346"/>
<rect x="594.00" y="235.81" width="2.26" height="22.92" fill="#b71c48"/>
<rect x="595.96" y="235.81" width="2.26" height="22.92" fill="#c42b4b"/>
<rect x="597.93" y="235.81" width="2.26" height="22.92" fill="#d33c4f"/>
<rect x="599.89" y="235.81" width="2.26" height="22.92" fill="#dd4a4c"/>
<rect x="601.85" y="235.81" width="2.26" height="22.92" fill="#ea5e47"/>
<rect x="603.81" y="235.81" width="2.26" height="22.92" fill="#f57647"/>
<rect x="605.77" y="235.81" width="2.26" height="22.92" fill="#fa9857"/>
<rect x="607.73" y="235.81" width="2.26" height="22.92" fill="#fdb96a"/>
<rect x="609.69" y="235.81" width="2.26" height="22.92" fill="#fed783"/>
<rect x="611.65" y="235.81" width="2.26" height="22.92" fill="#feeea2"/>
<rect x="613.62" y="235.81" width="2.26" height="22.92" fill="#fdfebc"/>
<rect x="615.58" y="235.81" width="2.26" height="22.92" fill="#eff9a7"/>
<rect x="617.54" y="235.81" width="2.26" height="22.92" fill="#e8f69b"/>
<rect x="325.30" y="258.43" width="8.15" height="22.92" fill="#ffffbf"/>
<rect x="333.15" y="258.43" width="2.26" height="22.92" fill="#fffbb9"/>
<rect x="335.11" y="258.43" width="2.26" height="22.92" fill="#fedb87"/>
<rect x="337.07" y="258.43" width="2.26" height="22.92" fill="#fdbc6d"/>
<rect x="339.03" y="258.43" width="2.26" height="22.92" fill="#fa9c59"/>
<rect x="340.99" y="258.43" width="2.26" height="22.92" fill="#f67a49"/>
<rect x="342.95" y="258.43" width="2.26" height="22.92" fill="#ec6146"/>
<rect x="344.91" y="258.43" width="2.26" height="22.92" fill="#e04f4b"/>
<rect x="346.87" y="258.43" width="2.26" height="22.92" fill="#d7414e"/>
<rect x="348.84" y="258.43" width="2.26" height="22.92" fill="#cd364d"/>
<rect x="350.80" y="258.43" width="2.26" height="22.92" fill="#c32a4b"/>
<rect x="352.76" y="258.43" width="2.26" height="22.92" fill="#bc2249"/>
<rect x="354.72" y="258.43" width="2.26" height="22.92" fill="#b51b47"/>
<rect x="356.68" y="258.43" width="2.26" height="22.92" fill="#ac1145"/>
<rect x="358.64" y="258.43" width="2.26" height="22.92" fill="#a30743"/>
<rect x="360.60" y="258.43" width="72.87" height="22.92" fill="#9e0142"/>
<rect x="433.17" y="258.43" width="2.26" height="22.92" fill="#a20643"/>
<rect x="435.13" y="258.43" width="2.26" height="22.92" fill="#a60a44"/>
<rect x="437.10" y="258.43" width="2.26" height="22.92" fill="#ab0f45"/>
<rect x="439.06" y="258.43" width="2.26" height="22.92" fill="#af1446"/>
<rect x="441.02" y="258.43" width="2.26" height="22.92" fill="#b21747"/>
<rect x="442.98" y="258.43" width="2.26" height="22.92" fill="#b51b48"/>
<rect x="444.94" y="258.43" width="2.26" height="22.92" fill="#b91f48"/>
<rect x="446.90" y="258.43" width="2.26" height="22.92" fill="#bc2249"/>
<rect x="448.86" y="258.43" width="2.26" height="22.92" fill="#bf264a"/>
<rect x="450.83" y="258.43" width="2.26" height="22.92" fill="#c2294b"/>
<rect x="452.79" y="258.43" width="2.26" height="22.92" fill="#c52c4b"/>
<rect x="454.75" y="258.43" width="2.26" height="22.92" fill="#c82f4c"/>
<rect x="456.71" y="258.43" width="2.26" height="22.92" fill="#cb334d"/>
<rect x="458.67" y="258.43" width="2.26" height="22.92" fill="#ce364d"/>
<rect x="460.63" y="258.43" width="2.26" height="22.92" fill="#d0394e"/>
<rect x="462.59" y="258.43" width="2.26" height="22.92" fill="#d33c4f"/>
<rect x="464.55" y="258.43" width="2.26" height="22.92" fill="#d63f4f"/>
<rect x="466.52" y="258.43" width="2.26" height="22.92" fill="#d7414e"/>
<rect x="468.48" y="258.43" width="2.26" height="22.92" fill="#d8434e"/>
<rect x="470.44" y="258.43" width="2.26" height="22.92" fill="#d9444d"/>
<rect x="472.40" y="258.43" width="2.26" height="22.92" fill="#da464d"/>
<rect x="474.36" y="258.43" width="2.26" height="22.92" fill="#dc484c"/>
<rect x="476.32" y="258.43" width="2.26" height="22.92" fill="#dd4a4c"/>
<rect x="478.28" y="258.43" width="2.26" height="22.92" fill="#de4c4b"/>
<rect x="480.25" y="258.43" width="2.26" height="22.92" fill="#df4e4b"/>
<rect x="482.21" y="258.43" width="2.26" height="22.92" fill="#e14f4b"/>
<rect x="484.17" y="258.43" width="2.26" height="22.92" fill="#e2514a"/>
<rect x="486.13" y="258.43" width="2.26" height="22.92" fill="#e3534a"/>
<rect x="488.09" y="258.43" width="2.26" height="22.92" fill="#e45549"/>
<rect x="490.05" y="258.43" width="2.26" height="22.92" fill="#e55749"/>
<rect x="492.01" y="258.43" width="2.26" height="22.92" fill="#e75948"/>
<rect x="493.97" y="258.43" width="2.26" height="22.92" fill="#e85b48"/>
<rect x="495.94" y="258.43" width="2.26" height="22.92" fill="#e95c47"/>
<rect x="497.90" y="258.43" width="2.26" height="22.92" fill="#ea5e47"/>
<rect x="499.86" y="258.43" width="2.26" height="22.92" fill="#eb6046"/>
<rect x="501.82" y="258.43" width="2.26" height="22.92" fill="#ec6246"/>
<rect x="503.78" y="258.43" width="2.26" height="22.92" fill="#ee6346"/>
<rect x="505.74" y="258.43" width="2.26" height="22.92" fill="#ef6545"/>
<rect x="507.70" y="258.43" width="2.26" height="22.92" fill="#f06645"/>
<rect x="509.67" y="258.43" width="2.26" height="22.92" fill="#f16844"/>
<rect x="511.63" y="258.43" width="2.26" height="22.92" fill="#f26a44"/>
<rect x="513.59" y="258.43" width="2.26" height="22.92" fill="#f36b43"/>
<rect x="515.55" y="258.43" width="2.26" height="22.92" fill="#f46d43"/>
<rect x="517.51" y="258.43" width="2.26" height="22.92" fill="#f46c43"/>
<rect x="519.47" y="258.43" width="2.26" height="22.92" fill="#f36c43"/>
<rect x="521.43" y="258.43" width="2.26" height="22.92" fill="#f36b44"/>
<rect x="523.39" y="258.43" width="2.26" height="22.92" fill="#f26a44"/>
<rect x="525.36" y="258.43" width="2.26" height="22.92" fill="#f26944"/>
<rect x="527.32" y="258.43" width="2.26" height="22.92" fill="#f16944"/>
<rect x="529.28" y="258.43" width="2.26" height="22.92" fill="#ef6645"/>
<rect x="531.24" y="258.43" width="2.26" height="22.92" fill="#ec6146"/>
<rect x="533.20" y="258.43" width="2.26" height="22.92" fill="#e85b48"/>
<rect x="535.16" y="258.43" width="2.26" height="22.92" fill="#e55649"/>
<rect x="537.12" y="258.43" width="2.26" height="22.92" fill="#e1504a"/>
<rect x="539.09" y="258.43" width="2.26" height="22.92" fill="#db474d"/>
<rect x="541.05" y="258.43" width="2.26" height="22.92" fill="#d53e4f"/>
<rect x="543.01" y="258.43" width="2.26" height="22.92" fill="#d0384e"/>
<rect x="544.97" y="258.43" width="2.26" height="22.92" fill="#ca324c"/>
<rect x="546.93" y="258.43" width="2.26" height="22.92" fill="#bf264a"/>
<rect x="548.89" y="258.43" width="2.26" height="22.92" fill="#b51a47"/>
<rect x="550.85" y="258.43" width="2.26" height="22.92" fill="#b21747"/>
<rect x="552.81" y="258.43" width="2.26" height="22.92" fill="#af1446"/>
<rect x="554.78" y="258.43" width="2.26" height="22.92" fill="#4ca5b1"/>
<rect x="556.74" y="258.43" width="2.26" height="22.92" fill="#c8e99e"/>
<rect x="558.70" y="258.43" width="2.26" height="22.92" fill="#ffffbf"/>
<rect x="560.66" y="258.43" width="2.26" height="22.92" fill="#fecc7a"/>
<rect x="562.62" y="258.43" width="2.26" height="22.92" fill="#f7844e"/>
<rect x="564.58" y="258.43" width="2.26" height="22.92" fill="#ed6346"/>
<rect x="566.54" y="258.43" width="2.26" height="22.92" fill="#e1514a"/>
<rect x="568.51" y="258.43" width="2.26" height="22.92" fill="#d53e4f"/>
<rect x="570.47" y="258.43" width="2.26" height="22.92" fill="#cb334d"/>
<rect x="572.43" y="258.43" width="2.26" height="22.92" fill="#c1274a"/>
<rect x="574.39" y="258.43" width="2.26" height="22.92" fill="#b61c48"/>
<rect x="576.35" y="258.43" width="2.26" height="22.92" fill="#ae1246"/>
<rect x="578.31" y="258.43" width="2.26" height="22.92" fill="#a90d45"/>
<rect x="580.27" y="258.43" width="2.26" height="22.92" fill="#a50944"/>
<rect x="582.23" y="258.43" width="4.22" height="22.92" fill="#a10443"/>
<rect x="586.16" y="258.43" width="2.26" height="22.92" fill="#a80c44"/>
<rect x="588.12" y="258.43" width="2.26" height="22.92" fill="#af1446"/>
<rect x="590.08" y="258.43" width="2.26" height="22.92" fill="#b61c48"/>
<rect x="592.04" y="258.43" width="2.26" height="22.92" fill="#c2294b"/>
<rect x="594.00" y="258.43" width="2.26" height="22.92" fill="#d23a4e"/>
<rect x="595.96" y="258.43" width="2.26" height="22.92" fill="#dc494c"/>
<rect x="597.93" y="258.43" width="2.26" height="22.92" fill="#e95c47"/>
<rect x="599.89" y="258.43" width="2.26" height="22.92" fill="#f57245"/>
<rect x="601.85" y="258.43" width="2.26" height="22.92" fill="#f99455"/>
<rect x="603.81" y="258.43" width="2.26" height="22.92" fill="#fdb668"/>
<rect x="605.77" y="258.43" width="2.26" height="22.92" fill="#fed783"/>
<rect x="607.73" y="258.43" width="2.26" height="22.92" fill="#feeea2"/>
<rect x="609.69" y="258.43" width="2.26" height="22.92" fill="#feffbd"/>
<rect x="611.65" y="258.43" width="2.26" height="22.92" fill="#f1f9a9"/>
<rect x="613.62" y="258.43" width="2.26" height="22.92" fill="#e4f498"/>
<rect x="615.58" y="258.43" width="2.26" height="22.92" fill="#d4ee9c"/>
<rect x="617.54" y="258.43" width="2.26" height="22.92" fill="#c4e79f"/>
<rect x="325.30" y="281.05" width="8.15" height="22.92" fill="#fff9b5"/>
<rect x="333.15" y="281.05" width="2.26" height="22.92" fill="#fee99a"/>
<rect x="335.11" y="281.05" width="2.26" height="22.92" fill="#fecd7b"/>
<rect x="337.07" y="281.05" width="2.26" height="22.92" fill="#fdaf61"/>
<rect x="339.03" y="281.05" width="2.26" height="22.92" fill="#f88a50"/>
<rect x="340.99" y="281.05" width="2.26" height="22.92" fill="#f36b44"/>
<rect x="342.95" y="281.05" width="2.26" height="22.92" fill="#e65748"/>
<rect x="344.91" y="281.05" width="2.26" height="22.92" fill="#db464d"/>
<rect x="346.87" y="281.05" width="2.26" height="22.92" fill="#d33c4f"/>
<rect x="348.84" y="281.05" width="2.26" height="22.92" fill="#c82f4c"/>
<rect x="350.80" y="281.05" width="2.26" height="22.92" fill="#c0264a"/>
<rect x="352.76" y="281.05" width="2.26" height="22.92" fill="#b91f48"/>
<rect x="354.72" y="281.05" width="2.26" height="22.92" fill="#b11647"/>
<rect x="356.68" y="281.05" width="2.26" height="22.92" fill="#a80d44"/>
<rect x="358.64" y="281.05" width="2.26" height="22.92" fill="#a00342"/>
<rect x="360.60" y="281.05" width="63.06" height="22.92" fill="#9e0142"/>
<rect x="423.37" y="281.05" width="2.26" height="22.92" fill="#9f0342"/>
<rect x="425.33" y="281.05" width="2.26" height="22.92" fill="#a30743"/>
<rect x="427.29" y="281.05" width="2.26" height="22.92" fill="#a70b44"/>
<rect x="429.25" y="281.05" width="2.26" height="22.92" fill="#ab0f45"/>
<rect x="431.21" y="281.05" width="2.26" height="22.92" fill="#ae1346"/>
<rect x="433.17" y="281.05" width="2.26" height="22.92" fill="#b11646"/>
<rect x="435.13" y="281.05" width="2.26" height="22.92" fill="#b31947"/>
<rect x="437.10" y="281.05" width="2.26" height="22.92" fill="#b61b48"/>
<rect x="439.06" y="281.05" width="2.26" height="22.92" fill="#b81e48"/>
<rect x="441.02" y="281.05" width="2.26" height="22.92" fill="#bb2149"/>
<rect x="442.98" y="281.05" width="2.26" height="22.92" fill="#bd2449"/>
<rect x="444.94" y="281.05" width="2.26" height="22.92" fill="#c0264a"/>
<rect x="446.90" y="281.05" width="2.26" height="22.92" fill="#c2294b"/>
<rect x="448.86" y="281.05" width="2.26" height="22.92" fill="#c52c4b"/>
<rect x="450.83" y="281.05" width="2.26" height="22.92" fill="#c72f4c"/>
<rect x="452.79" y="281.05" width="2.26" height="22.92" fill="#ca324c"/>
<rect x="454.75" y="281.05" width="2.26" height="22.92" fill="#cd354d"/>
<rect x="456.71" y="281.05" width="2.26" height="22.92" fill="#d0394e"/>
<rect x="458.67" y="281.05" width="2.26" height="22.92" fill="#d33c4f"/>
<rect x="460.63" y="281.05" width="2.26" height="22.92" fill="#d63f4f"/>
<rect x="462.59" y="281.05" width="2.26" height="22.92" fill="#d7414e"/>
<rect x="464.55" y="281.05" width="2.26" height="22.92" fill="#d9444e"/>
<rect x="466.52" y="281.05" width="2.26" height="22.92" fill="#da464d"/>
<rect x="468.48" y="281.05" width="2.26" height="22.92" fill="#dc494c"/>
<rect x="470.44" y="281.05" width="2.26" height="22.92" fill="#de4b4c"/>
<rect x="472.40" y="281.05" width="2.26" height="22.92" fill="#df4e4b"/>
<rect x="474.36" y="281.05" width="2.26" height="22.92" fill="#e1504a"/>
<rect x="476.32" y="281.05" width="2.26" height="22.92" fill="#e3534a"/>
<rect x="478.28" y="281.05" width="2.26" height="22.92" fill="#e45549"/>
<rect x="480.25" y="281.05" width="2.26" height="22.92" fill="#e65749"/>
<rect x="482.21" y="281.05" width="2.26" height="22.92" fill="#e75948"/>
<rect x="484.17" y="281.05" width="2.26" height="22.92" fill="#e85b48"/>
<rect x="486.13" y="281.05" width="2.26" height="22.92" fill="#e95d47"/>
<rect x="488.09" y="281.05" width="2.26" height="22.92" fill="#ea5e47"/>
<rect x="490.05" y="281.05" width="2.26" height="22.92" fill="#ec6046"/>
<rect x="492.01" y="281.05" width="2.26" height="22.92" fill="#ed6246"/>
<rect x="493.97" y="281.05" width="2.26" height="22.92" fill="#ee6445"/>
<rect x="495.94" y="281.05" width="2.26" height="22.92" fill="#ef6645"/>
<rect x="497.90" y="281.05" width="2.26" height="22.92" fill="#f16844"/>
<rect x="499.86" y="281.05" width="2.26" height="22.92" fill="#f16944"/>
<rect x="501.82" y="281.05" width="2.26" height="22.92" fill="#f26a44"/>
<rect x="503.78" y="281.05" width="2.26" height="22.92" fill="#f36b43"/>
<rect x="505.74" y="281.05" width="2.26" height="22.92" fill="#f36c43"/>
<rect x="507.70" y="281.05" width="2.26" height="22.92" fill="#f46d43"/>
<rect x="509.67" y="281.05" width="2.26" height="22.92" fill="#f46f44"/>
<rect x="511.63" y="281.05" width="2.26" height="22.92" fill="#f47045"/>
<rect x="513.59" y="281.05" width="2.26" height="22.92" fill="#f57245"/>
<rect x="515.55" y="281.05" width="4.22" height="22.92" fill="#f57346"/>
<rect x="519.47" y="281.05" width="2.26" height="22.92" fill="#f57245"/>
<rect x="521.43" y="281.05" width="4.22" height="22.92" fill="#f57145"/>
<rect x="525.36" y="281.05" width="2.26" height="22.92" fill="#f47044"/>
<rect x="527.32" y="281.05" width="4.22" height="22.92" fill="#f46f44"/>
<rect x="531.24" y="281.05" width="2.26" height="22.92" fill="#f46e43"/>
<rect x="533.20" y="281.05" width="2.26" height="22.92" fill="#f46d43"/>
<rect x="535.16" y="281.05" width="2.26" height="22.92" fill="#f36b43"/>
<rect x="537.12" y="281.05" width="2.26" height="22.92" fill="#f26944"/>
<rect x="539.09" y="281.05" width="2.26" height="22.92" fill="#f06844"/>
<rect x="541.05" y="281.05" width="2.26" height="22.92" fill="#ef6645"/>
<rect x="543.01" y="281.05" width="2.26" height="22.92" fill="#ee6445"/>
<rect x="544.97" y="281.05" width="2.26" height="22.92" fill="#ed6246"/>
<rect x="546.93" y="281.05" width="2.26" height="22.92" fill="#ec6046"/>
<rect x="548.89" y="281.05" width="2.26" height="22.92" fill="#ea5e47"/>
<rect x="550.85" y="281.05" width="2.26" height="22.92" fill="#e75a48"/>
<rect x="552.81" y="281.05" width="2.26" height="22.92" fill="#e55649"/>
<rect x="554.78" y="281.05" width="2.26" height="22.92" fill="#fca45c"/>
<rect x="556.74" y="281.05" width="2.26" height="22.92" fill="#fdac60"/>
<rect x="558.70" y="281.05" width="2.26" height="22.92" fill="#f88a50"/>
<rect x="560.66" y="281.05" width="2.26" height="22.92" fill="#f06745"/>
<rect x="562.62" y="281.05" width="2.26" height="22.92" fill="#e75948"/>
<rect x="564.58" y="281.05" width="2.26" height="22.92" fill="#dd4b4c"/>
<rect x="566.54" y="281.05" width="2.26" height="22.92" fill="#d7414e"/>
<rect x="568.51" y="281.05" width="2.26" height="22.92" fill="#ce364d"/>
<rect x="570.47" y="281.05" width="2.26" height="22.92" fill="#c42b4b"/>
<rect x="572.43" y="281.05" width="2.26" height="22.92" fill="#ba2049"/>
<rect x="574.39" y="281.05" width="2.26" height="22.92" fill="#b31847"/>
<rect x="576.35" y="281.05" width="2.26" height="22.92" fill="#ab1045"/>
<rect x="578.31" y="281.05" width="2.26" height="22.92" fill="#a40843"/>
<rect x="580.27" y="281.05" width="2.26" height="22.92" fill="#9f0242"/>
<rect x="582.23" y="281.05" width="2.26" height="22.92" fill="#a20643"/>
<rect x="584.20" y="281.05" width="2.26" height="22.92" fill="#a60a44"/>
<rect x="586.16" y="281.05" width="2.26" height="22.92" fill="#a90d45"/>
<rect x="588.12" y="281.05" width="2.26" height="22.92" fill="#ad1145"/>
<rect x="590.08" y="281.05" width="2.26" height="22.92" fill="#b61c48"/>
<rect x="592.04" y="281.05" width="2.26" height="22.92" fill="#c52c4b"/>
<rect x="594.00" y="281.05" width="2.26" height="22.92" fill="#d43d4f"/>
<rect x="595.96" y="281.05" width="2.26" height="22.92" fill="#e45549"/>
<rect x="597.93" y="281.05" width="2.26" height="22.92" fill="#f46f44"/>
<rect x="599.89" y="281.05" width="2.26" height="22.92" fill="#f99053"/>
<rect x="601.85" y="281.05" width="2.26" height="22.92" fill="#fdb264"/>
<rect x="603.81" y="281.05" width="2.26" height="22.92" fill="#fed07e"/>
<rect x="605.77" y="281.05" width="2.26" height="22.92" fill="#feea9b"/>
<rect x="607.73" y="281.05" width="2.26" height="22.92" fill="#fffebd"/>
<rect x="609.69" y="281.05" width="2.26" height="22.92" fill="#f2faab"/>
<rect x="611.65" y="281.05" width="2.26" height="22.92" fill="#e5f498"/>
<rect x="613.62" y="281.05" width="2.26" height="22.92" fill="#cfec9d"/>
<rect x="615.58" y="281.05" width="2.26" height="22.92" fill="#bae3a1"/>
<rect x="617.54" y="281.05" width="2.26" height="22.92" fill="#a8dca4"/>
<rect x="325.30" y="303.68" width="6.18" height="22.92" fill="#fff3aa"/>
<rect x="331.18" y="303.68" width="2.26" height="22.92" fill="#feefa5"/>
<rect x="333.15" y="303.68" width="2.26" height="22.92" fill="#fedc88"/>
<rect x="335.11" y="303.68" width="2.26" height="22.92" fill="#fdbd6e"/>
<rect x="337.07" y="303.68" width="2.26" height="22.92" fill="#fb9d59"/>
<rect x="339.03" y="303.68" width="2.26" height="22.92" fill="#f67b4a"/>
<rect x="340.99" y="303.68" width="2.26" height="22.92" fill="#ec6146"/>
<rect x="342.95" y="303.68" width="2.26" height="22.92" fill="#e04f4b"/>
<rect x="344.91" y="303.68" width="2.26" height="22.92" fill="#d8424e"/>
<rect x="346.87" y="303.68" width="2.26" height="22.92" fill="#ce364d"/>
<rect x="348.84" y="303.68" width="2.26" height="22.92" fill="#c32a4b"/>
<rect x="350.80" y="303.68" width="2.26" height="22.92" fill="#bc2349"/>
<rect x="352.76" y="303.68" width="2.26" height="22.92" fill="#b51b48"/>
<rect x="354.72" y="303.68" width="2.26" height="22.92" fill="#ad1246"/>
<rect x="356.68" y="303.68" width="2.26" height="22.92" fill="#a50944"/>
<rect x="358.64" y="303.68" width="65.02" height="22.92" fill="#9e0142"/>
<rect x="423.37" y="303.68" width="2.26" height="22.92" fill="#9f0342"/>
<rect x="425.33" y="303.68" width="2.26" height="22.92" fill="#a30743"/>
<rect x="427.29" y="303.68" width="2.26" height="22.92" fill="#a70b44"/>
<rect x="429.25" y="303.68" width="2.26" height="22.92" fill="#ab0f45"/>
<rect x="431.21" y="303.68" width="2.26" height="22.92" fill="#ae1346"/>
<rect x="433.17" y="303.68" width="2.26" height="22.92" fill="#b11646"/>
<rect x="435.13" y="303.68" width="2.26" height="22.92" fill="#b31947"/>
<rect x="437.10" y="303.68" width="2.26" height="22.92" fill="#b61b48"/>
<rect x="439.06" y="303.68" width="2.26" height="22.92" fill="#b81e48"/>
<rect x="441.02" y="303.68" width="2.26" height="22.92" fill="#bb2149"/>
<rect x="442.98" y="303.68" width="2.26" height="22.92" fill="#bd2449"/>
<rect x="444.94" y="303.68" width="2.26" height="22.92" fill="#c0264a"/>
<rect x="446.90" y="303.68" width="2.26" height="22.92" fill="#c2294b"/>
<rect x="448.86" y="303.68" width="2.26" height="22.92" fill="#c52c4b"/>
<rect x="450.83" y="303.68" width="2.26" height="22.92" fill="#c8304c"/>
<rect x="452.79" y="303.68" width="2.26" height="22.92" fill="#cc344d"/>
<rect x="454.75" y="303.68" width="2.26" height="22.92" fill="#cf384e"/>
<rect x="456.71" y="303.68" width="2.26" height="22.92" fill="#d33c4f"/>
<rect x="458.67" y="303.68" width="2.26" height="22.92" fill="#d63f4f"/>
<rect x="460.63" y="303.68" width="2.26" height="22.92" fill="#d8434e"/>
<rect x="462.59" y="303.68" width="2.26" height="22.92" fill="#da464d"/>
<rect x="464.55" y="303.68" width="2.26" height="22.92" fill="#dc484c"/>
<rect x="466.52" y="303.68" width="2.26" height="22.92" fill="#de4b4c"/>
<rect x="468.48" y="303.68" width="2.26" height="22.92" fill="#df4d4b"/>
<rect x="470.44" y="303.68" width="2.26" height="22.92" fill="#e1504a"/>
<rect x="472.40" y="303.68" width="2.26" height="22.92" fill="#e2524a"/>
<rect x="474.36" y="303.68" width="2.26" height="22.92" fill="#e45549"/>
<rect x="476.32" y="303.68" width="2.26" height="22.92" fill="#e65749"/>
<rect x="478.28" y="303.68" width="2.26" height="22.92" fill="#e75a48"/>
<rect x="480.25" y="303.68" width="2.26" height="22.92" fill="#e95c47"/>
<rect x="482.21" y="303.68" width="2.26" height="22.92" fill="#ea5e47"/>
<rect x="484.17" y="303.68" width="2.26" height="22.92" fill="#eb5f46"/>
<rect x="486.13" y="303.68" width="2.26" height="22.92" fill="#ec6146"/>
<rect x="488.09" y="303.68" width="2.26" height="22.92" fill="#ee6346"/>
<rect x="490.05" y="303.68" width="2.26" height="22.92" fill="#ef6545"/>
<rect x="492.01" y="303.68" width="2.26" height="22.92" fill="#f06745"/>
<rect x="493.97" y="303.68" width="2.26" height="22.92" fill="#f16944"/>
<rect x="495.94" y="303.68" width="2.26" height="22.92" fill="#f26b44"/>
<rect x="497.90" y="303.68" width="2.26" height="22.92" fill="#f46c43"/>
<rect x="499.86" y="303.68" width="2.26" height="22.92" fill="#f46e43"/>
<rect x="501.82" y="303.68" width="2.26" height="22.92" fill="#f46f44"/>
<rect x="503.78" y="303.68" width="2.26" height="22.92" fill="#f57145"/>
<rect x="505.74" y="303.68" width="2.26" height="22.92" fill="#f57245"/>
<rect x="507.70" y="303.68" width="2.26" height="22.92" fill="#f57446"/>
<rect x="509.67" y="303.68" width="2.26" height="22.92" fill="#f57547"/>
<rect x="511.63" y="303.68" width="2.26" height="22.92" fill="#f57748"/>
<rect x="513.59" y="303.68" width="2.26" height="22.92" fill="#f67848"/>
<rect x="515.55" y="303.68" width="2.26" height="22.92" fill="#f67a49"/>
<rect x="517.51" y="303.68" width="2.26" height="22.92" fill="#f67949"/>
<rect x="519.47" y="303.68" width="2.26" height="22.92" fill="#f67948"/>
<rect x="521.43" y="303.68" width="2.26" height="22.92" fill="#f67848"/>
<rect x="523.39" y="303.68" width="2.26" height="22.92" fill="#f57748"/>
<rect x="525.36" y="303.68" width="4.22" height="22.92" fill="#f57647"/>
<rect x="529.28" y="303.68" width="2.26" height="22.92" fill="#f57547"/>
<rect x="531.24" y="303.68" width="4.22" height="22.92" fill="#f57446"/>
<rect x="535.16" y="303.68" width="2.26" height="22.92" fill="#f57245"/>
<rect x="537.12" y="303.68" width="2.26" height="22.92" fill="#f47044"/>
<rect x="539.09" y="303.68" width="2.26" height="22.92" fill="#f46f44"/>
<rect x="541.05" y="303.68" width="2.26" height="22.92" fill="#f46d43"/>
<rect x="543.01" y="303.68" width="2.26" height="22.92" fill="#f36c43"/>
<rect x="544.97" y="303.68" width="2.26" height="22.92" fill="#f26a44"/>
<rect x="546.93" y="303.68" width="2.26" height="22.92" fill="#f16944"/>
<rect x="548.89" y="303.68" width="2.26" height="22.92" fill="#f16844"/>
<rect x="550.85" y="303.68" width="2.26" height="22.92" fill="#f06745"/>
<rect x="552.81" y="303.68" width="2.26" height="22.92" fill="#ef6645"/>
<rect x="554.78" y="303.68" width="2.26" height="22.92" fill="#ef6545"/>
<rect x="556.74" y="303.68" width="2.26" height="22.92" fill="#ee6445"/>
<rect x="558.70" y="303.68" width="2.26" height="22.92" fill="#ec6146"/>
<rect x="560.66" y="303.68" width="2.26" height="22.92" fill="#e55649"/>
<rect x="562.62" y="303.68" width="2.26" height="22.92" fill="#de4b4c"/>
<rect x="564.58" y="303.68" width="2.26" height="22.92" fill="#d7404e"/>
<rect x="566.54" y="303.68" width="2.26" height="22.92" fill="#ce374d"/>
<rect x="568.51" y="303.68" width="2.26" height="22.92" fill="#c62d4b"/>
<rect x="570.47" y="303.68" width="2.26" height="22.92" fill="#bd2349"/>
<rect x="572.43" y="303.68" width="2.26" height="22.92" fill="#b41a47"/>
<rect x="574.39" y="303.68" width="2.26" height="22.92" fill="#ae1346"/>
<rect x="576.35" y="303.68" width="2.26" height="22.92" fill="#a90d45"/>
<rect x="578.31" y="303.68" width="2.26" height="22.92" fill="#a30643"/>
<rect x="580.27" y="303.68" width="2.26" height="22.92" fill="#9f0242"/>
<rect x="582.23" y="303.68" width="2.26" height="22.92" fill="#a20643"/>
<rect x="584.20" y="303.68" width="2.26" height="22.92" fill="#a60a44"/>
<rect x="586.16" y="303.68" width="2.26" height="22.92" fill="#aa0e45"/>
<rect x="588.12" y="303.68" width="2.26" height="22.92" fill="#ae1346"/>
<rect x="590.08" y="303.68" width="2.26" height="22.92" fill="#c0264a"/>
<rect x="592.04" y="303.68" width="2.26" height="22.92" fill="#d43d4f"/>
<rect x="594.00" y="303.68" width="2.26" height="22.92" fill="#e75948"/>
<rect x="595.96" y="303.68" width="2.26" height="22.92" fill="#f67949"/>
<rect x="597.93" y="303.68" width="2.26" height="22.92" fill="#fca55d"/>
<rect x="599.89" y="303.68" width="2.26" height="22.92" fill="#fec877"/>
<rect x="601.85" y="303.68" width="2.26" height="22.92" fill="#fee695"/>
<rect x="603.81" y="303.68" width="2.26" height="22.92" fill="#fffcb9"/>
<rect x="605.77" y="303.68" width="2.26" height="22.92" fill="#f4fbae"/>
<rect x="607.73" y="303.68" width="2.26" height="22.92" fill="#e7f599"/>
<rect x="609.69" y="303.68" width="2.26" height="22.92" fill="#d1ec9c"/>
<rect x="611.65" y="303.68" width="2.26" height="22.92" fill="#bbe3a1"/>
<rect x="613.62" y="303.68" width="2.26" height="22.92" fill="#addea4"/>
<rect x="615.58" y="303.68" width="2.26" height="22.92" fill="#a0d9a4"/>
<rect x="617.54" y="303.68" width="2.26" height="22.92" fill="#8ad0a4"/>
</g>
<rect x="325.3" y="32.2" width="294.2" height="294.1" fill="none" stroke="#262626" stroke-width="1"/>
<!-- ticks -->
<g stroke="#262626" stroke-width="1">
<line x1="326.3" y1="326.3" x2="326.3" y2="323.3"/>
<line x1="326.3" y1="32.2" x2="326.3" y2="35.2"/>
<line x1="399.4" y1="326.3" x2="399.4" y2="323.3"/>
<line x1="399.4" y1="32.2" x2="399.4" y2="35.2"/>
<line x1="472.4" y1="326.3" x2="472.4" y2="323.3"/>
<line x1="472.4" y1="32.2" x2="472.4" y2="35.2"/>
<line x1="545.5" y1="326.3" x2="545.5" y2="323.3"/>
<line x1="545.5" y1="32.2" x2="545.5" y2="35.2"/>
<line x1="618.5" y1="326.3" x2="618.5" y2="323.3"/>
<line x1="618.5" y1="32.2" x2="618.5" y2="35.2"/>
<line x1="325.3" y1="43.5" x2="328.3" y2="43.5"/>
<line x1="619.5" y1="43.5" x2="616.5" y2="43.5"/>
<line x1="325.3" y1="88.8" x2="328.3" y2="88.8"/>
<line x1="619.5" y1="88.8" x2="616.5" y2="88.8"/>
<line x1="325.3" y1="134.0" x2="328.3" y2="134.0"/>
<line x1="619.5" y1="134.0" x2="616.5" y2="134.0"/>
<line x1="325.3" y1="179.2" x2="328.3" y2="179.2"/>
<line x1="619.5" y1="179.2" x2="616.5" y2="179.2"/>
<line x1="325.3" y1="224.5" x2="328.3" y2="224.5"/>
<line x1="619.5" y1="224.5" x2="616.5" y2="224.5"/>
<line x1="325.3" y1="269.7" x2="328.3" y2="269.7"/>
<line x1="619.5" y1="269.7" x2="616.5" y2="269.7"/>
<line x1="325.3" y1="315.0" x2="328.3" y2="315.0"/>
<line x1="619.5" y1="315.0" x2="616.5" y2="315.0"/>
</g>
<text class="tick" x="326.7" y="353.2" text-anchor="middle">10</text>
<text class="tick" x="399.8" y="353.2" text-anchor="middle">15</text>
<text class="tick" x="472.8" y="353.2" text-anchor="middle">20</text>
<text class="tick" x="545.9" y="353.2" text-anchor="middle">25</text>
<text class="tick" x="618.9" y="353.2" text-anchor="middle">30</text>
<text class="tick" x="318.5" y="51.0" text-anchor="end">60</text>
<text class="tick" x="318.5" y="96.3" text-anchor="end">50</text>
<text class="tick" x="318.5" y="141.5" text-anchor="end">40</text>
<text class="tick" x="318.5" y="186.8" text-anchor="end">30</text>
<text class="tick" x="318.5" y="232.0" text-anchor="end">20</text>
<text class="tick" x="318.5" y="277.2" text-anchor="end">10</text>
<text class="tick" x="318.5" y="322.5" text-anchor="end">0</text>
<text class="lab" x="472.4" y="380.6" text-anchor="middle">Frequency (GHz)</text>
<text class="lab" transform="translate(289,178) rotate(-90)" text-anchor="middle" style="letter-spacing:0.22px">Incident angle (deg)</text>

<!-- colorbar -->
<rect x="637.5" y="32.2" width="18.3" height="294.1" fill="url(#cb)" stroke="#262626" stroke-width="0.6"/>
<text class="tick" x="661.3" y="40.2" style="letter-spacing:-0.7px">1</text>
<line x1="655.8" y1="91.4" x2="653" y2="91.4" stroke="#262626" stroke-width="0.8"/>
<text class="tick" x="661.3" y="99.0" style="letter-spacing:-0.7px">0.8</text>
<line x1="655.8" y1="150.2" x2="653" y2="150.2" stroke="#262626" stroke-width="0.8"/>
<text class="tick" x="661.3" y="157.8" style="letter-spacing:-0.7px">0.6</text>
<line x1="655.8" y1="209.1" x2="653" y2="209.1" stroke="#262626" stroke-width="0.8"/>
<text class="tick" x="661.3" y="216.7" style="letter-spacing:-0.7px">0.4</text>
<line x1="655.8" y1="267.9" x2="653" y2="267.9" stroke="#262626" stroke-width="0.8"/>
<text class="tick" x="661.3" y="275.5" style="letter-spacing:-0.7px">0.2</text>
<text class="tick" x="661.3" y="334.3" style="letter-spacing:-0.7px">0</text>
</svg>
</body></html>
